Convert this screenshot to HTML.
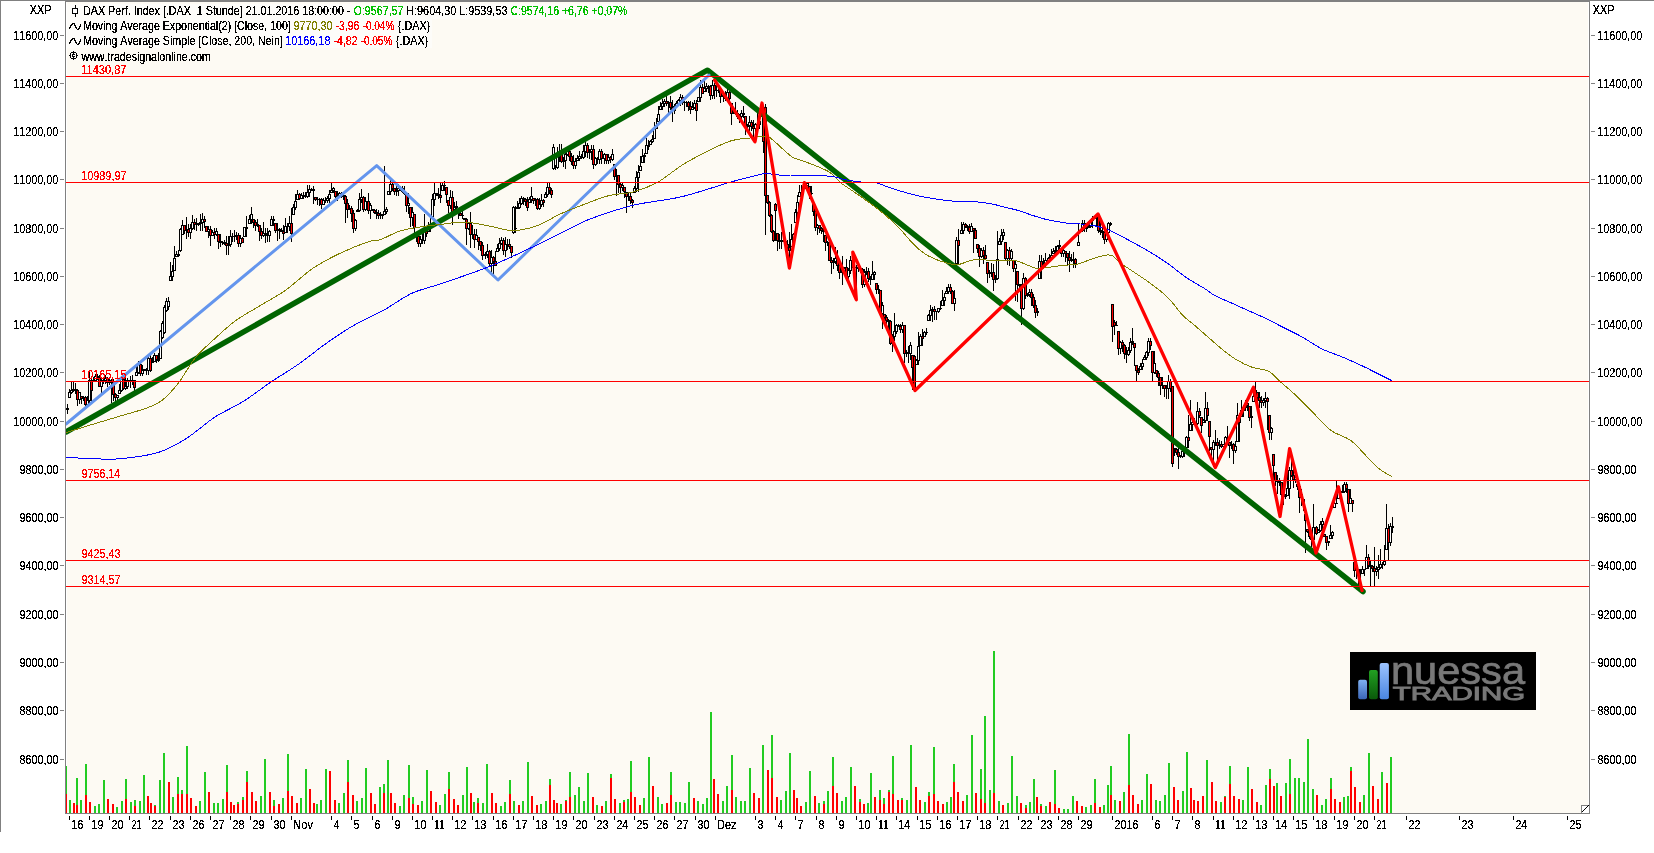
<!DOCTYPE html>
<html><head><meta charset="utf-8"><title>DAX chart</title>
<style>html,body{margin:0;padding:0;background:#fff;}body{width:1654px;height:853px;overflow:hidden;position:relative;font-family:"Liberation Sans", sans-serif;}</style>
</head><body>
<svg width="1654" height="853" viewBox="0 0 1654 853" style="position:absolute;left:0;top:0"><defs><filter id="crisp" color-interpolation-filters="sRGB"><feComponentTransfer><feFuncA type="discrete" tableValues="0 1 1"/></feComponentTransfer></filter></defs><rect x="0" y="0" width="1654" height="1" fill="#808080" shape-rendering="crispEdges"/><rect x="0" y="0" width="1" height="832" fill="#808080" shape-rendering="crispEdges"/><rect x="65" y="1" width="1525" height="813" fill="#808080" shape-rendering="crispEdges"/><rect x="66" y="2" width="1523" height="811" fill="#fdfaf3" shape-rendering="crispEdges"/><rect x="66" y="2" width="1" height="811" fill="#fff"/><rect x="1588" y="2" width="1" height="811" fill="#fff"/><rect x="67" y="4" width="563" height="15" fill="#fdfcf9" shape-rendering="crispEdges"/><rect x="67" y="19" width="365" height="29" fill="#fdfcf9" shape-rendering="crispEdges"/><defs><clipPath id="cp"><rect x="66" y="2" width="1523" height="811"/></clipPath></defs><g clip-path="url(#cp)"><g shape-rendering="crispEdges"><rect x="65" y="766" width="2" height="47" fill="#22cc22"/><rect x="65" y="794" width="2" height="19" fill="#ff0000"/><rect x="69" y="800" width="2" height="13" fill="#22cc22"/><rect x="73" y="803" width="2" height="10" fill="#ff0000"/><rect x="76" y="778" width="2" height="35" fill="#22cc22"/><rect x="76" y="805" width="2" height="8" fill="#ff0000"/><rect x="80" y="800" width="2" height="13" fill="#22cc22"/><rect x="85" y="764" width="2" height="49" fill="#22cc22"/><rect x="85" y="795" width="2" height="18" fill="#ff0000"/><rect x="89" y="802" width="2" height="11" fill="#ff0000"/><rect x="94" y="806" width="2" height="7" fill="#22cc22"/><rect x="98" y="804" width="2" height="9" fill="#22cc22"/><rect x="103" y="780" width="2" height="33" fill="#22cc22"/><rect x="107" y="799" width="2" height="14" fill="#ff0000"/><rect x="112" y="804" width="2" height="9" fill="#ff0000"/><rect x="116" y="807" width="2" height="6" fill="#22cc22"/><rect x="121" y="801" width="2" height="12" fill="#22cc22"/><rect x="125" y="779" width="2" height="34" fill="#22cc22"/><rect x="125" y="799" width="2" height="14" fill="#ff0000"/><rect x="130" y="802" width="2" height="11" fill="#22cc22"/><rect x="134" y="800" width="2" height="13" fill="#22cc22"/><rect x="134" y="806" width="2" height="7" fill="#ff0000"/><rect x="139" y="801" width="2" height="12" fill="#22cc22"/><rect x="143" y="775" width="2" height="38" fill="#22cc22"/><rect x="147" y="796" width="2" height="17" fill="#ff0000"/><rect x="150" y="803" width="2" height="10" fill="#ff0000"/><rect x="154" y="805" width="2" height="8" fill="#22cc22"/><rect x="154" y="806" width="2" height="7" fill="#ff0000"/><rect x="159" y="780" width="2" height="33" fill="#22cc22"/><rect x="163" y="753" width="2" height="60" fill="#22cc22"/><rect x="168" y="782" width="2" height="31" fill="#ff0000"/><rect x="172" y="797" width="2" height="16" fill="#22cc22"/><rect x="177" y="777" width="2" height="36" fill="#22cc22"/><rect x="177" y="794" width="2" height="19" fill="#ff0000"/><rect x="181" y="790" width="2" height="23" fill="#22cc22"/><rect x="181" y="794" width="2" height="19" fill="#ff0000"/><rect x="186" y="746" width="2" height="67" fill="#22cc22"/><rect x="186" y="794" width="2" height="19" fill="#ff0000"/><rect x="190" y="798" width="2" height="15" fill="#ff0000"/><rect x="195" y="806" width="2" height="7" fill="#ff0000"/><rect x="199" y="801" width="2" height="12" fill="#22cc22"/><rect x="204" y="772" width="2" height="41" fill="#22cc22"/><rect x="208" y="792" width="2" height="21" fill="#ff0000"/><rect x="213" y="803" width="2" height="10" fill="#22cc22"/><rect x="217" y="803" width="2" height="10" fill="#22cc22"/><rect x="222" y="799" width="2" height="14" fill="#22cc22"/><rect x="226" y="765" width="2" height="48" fill="#22cc22"/><rect x="226" y="792" width="2" height="21" fill="#ff0000"/><rect x="230" y="802" width="2" height="11" fill="#ff0000"/><rect x="233" y="805" width="2" height="8" fill="#ff0000"/><rect x="237" y="802" width="2" height="11" fill="#22cc22"/><rect x="237" y="804" width="2" height="9" fill="#ff0000"/><rect x="242" y="797" width="2" height="16" fill="#22cc22"/><rect x="242" y="800" width="2" height="13" fill="#ff0000"/><rect x="246" y="771" width="2" height="42" fill="#22cc22"/><rect x="246" y="782" width="2" height="31" fill="#ff0000"/><rect x="251" y="792" width="2" height="21" fill="#ff0000"/><rect x="255" y="801" width="2" height="12" fill="#ff0000"/><rect x="260" y="796" width="2" height="17" fill="#22cc22"/><rect x="264" y="759" width="2" height="54" fill="#22cc22"/><rect x="269" y="792" width="2" height="21" fill="#ff0000"/><rect x="273" y="800" width="2" height="13" fill="#22cc22"/><rect x="273" y="806" width="2" height="7" fill="#ff0000"/><rect x="278" y="804" width="2" height="9" fill="#ff0000"/><rect x="282" y="798" width="2" height="15" fill="#22cc22"/><rect x="287" y="754" width="2" height="59" fill="#22cc22"/><rect x="287" y="791" width="2" height="22" fill="#ff0000"/><rect x="291" y="796" width="2" height="17" fill="#ff0000"/><rect x="296" y="803" width="2" height="10" fill="#ff0000"/><rect x="300" y="798" width="2" height="15" fill="#22cc22"/><rect x="305" y="769" width="2" height="44" fill="#22cc22"/><rect x="309" y="789" width="2" height="24" fill="#ff0000"/><rect x="313" y="803" width="2" height="10" fill="#ff0000"/><rect x="316" y="804" width="2" height="9" fill="#22cc22"/><rect x="320" y="800" width="2" height="13" fill="#22cc22"/><rect x="325" y="769" width="2" height="44" fill="#22cc22"/><rect x="329" y="771" width="2" height="42" fill="#ff0000"/><rect x="334" y="800" width="2" height="13" fill="#ff0000"/><rect x="338" y="803" width="2" height="10" fill="#22cc22"/><rect x="343" y="793" width="2" height="20" fill="#22cc22"/><rect x="347" y="760" width="2" height="53" fill="#22cc22"/><rect x="347" y="782" width="2" height="31" fill="#ff0000"/><rect x="352" y="795" width="2" height="18" fill="#ff0000"/><rect x="356" y="801" width="2" height="12" fill="#22cc22"/><rect x="361" y="798" width="2" height="15" fill="#22cc22"/><rect x="365" y="768" width="2" height="45" fill="#22cc22"/><rect x="370" y="793" width="2" height="20" fill="#ff0000"/><rect x="374" y="804" width="2" height="9" fill="#ff0000"/><rect x="379" y="787" width="2" height="26" fill="#22cc22"/><rect x="383" y="784" width="2" height="29" fill="#22cc22"/><rect x="383" y="793" width="2" height="20" fill="#ff0000"/><rect x="387" y="760" width="2" height="53" fill="#22cc22"/><rect x="390" y="793" width="2" height="20" fill="#ff0000"/><rect x="394" y="803" width="2" height="10" fill="#ff0000"/><rect x="399" y="806" width="2" height="7" fill="#22cc22"/><rect x="403" y="795" width="2" height="18" fill="#22cc22"/><rect x="408" y="765" width="2" height="48" fill="#22cc22"/><rect x="408" y="798" width="2" height="15" fill="#ff0000"/><rect x="412" y="797" width="2" height="16" fill="#22cc22"/><rect x="412" y="804" width="2" height="9" fill="#ff0000"/><rect x="417" y="805" width="2" height="8" fill="#ff0000"/><rect x="421" y="801" width="2" height="12" fill="#22cc22"/><rect x="426" y="770" width="2" height="43" fill="#22cc22"/><rect x="430" y="791" width="2" height="22" fill="#ff0000"/><rect x="435" y="802" width="2" height="11" fill="#ff0000"/><rect x="439" y="805" width="2" height="8" fill="#22cc22"/><rect x="444" y="794" width="2" height="19" fill="#22cc22"/><rect x="448" y="772" width="2" height="41" fill="#22cc22"/><rect x="448" y="789" width="2" height="24" fill="#ff0000"/><rect x="453" y="799" width="2" height="14" fill="#ff0000"/><rect x="457" y="805" width="2" height="8" fill="#ff0000"/><rect x="462" y="795" width="2" height="18" fill="#22cc22"/><rect x="466" y="767" width="2" height="46" fill="#22cc22"/><rect x="470" y="793" width="2" height="20" fill="#ff0000"/><rect x="473" y="802" width="2" height="11" fill="#22cc22"/><rect x="477" y="798" width="2" height="15" fill="#22cc22"/><rect x="477" y="803" width="2" height="10" fill="#ff0000"/><rect x="482" y="803" width="2" height="10" fill="#22cc22"/><rect x="486" y="764" width="2" height="49" fill="#22cc22"/><rect x="491" y="793" width="2" height="20" fill="#ff0000"/><rect x="495" y="803" width="2" height="10" fill="#ff0000"/><rect x="500" y="806" width="2" height="7" fill="#22cc22"/><rect x="504" y="802" width="2" height="11" fill="#22cc22"/><rect x="509" y="780" width="2" height="33" fill="#22cc22"/><rect x="509" y="794" width="2" height="19" fill="#ff0000"/><rect x="513" y="801" width="2" height="12" fill="#22cc22"/><rect x="518" y="805" width="2" height="8" fill="#ff0000"/><rect x="522" y="801" width="2" height="12" fill="#22cc22"/><rect x="527" y="762" width="2" height="51" fill="#22cc22"/><rect x="531" y="796" width="2" height="17" fill="#ff0000"/><rect x="536" y="805" width="2" height="8" fill="#ff0000"/><rect x="540" y="804" width="2" height="9" fill="#22cc22"/><rect x="545" y="801" width="2" height="12" fill="#22cc22"/><rect x="549" y="779" width="2" height="34" fill="#22cc22"/><rect x="549" y="785" width="2" height="28" fill="#ff0000"/><rect x="553" y="800" width="2" height="13" fill="#ff0000"/><rect x="556" y="803" width="2" height="10" fill="#ff0000"/><rect x="560" y="804" width="2" height="9" fill="#22cc22"/><rect x="565" y="800" width="2" height="13" fill="#22cc22"/><rect x="565" y="801" width="2" height="12" fill="#ff0000"/><rect x="569" y="772" width="2" height="41" fill="#22cc22"/><rect x="569" y="797" width="2" height="16" fill="#ff0000"/><rect x="574" y="795" width="2" height="18" fill="#22cc22"/><rect x="578" y="787" width="2" height="26" fill="#22cc22"/><rect x="583" y="801" width="2" height="12" fill="#22cc22"/><rect x="587" y="773" width="2" height="40" fill="#22cc22"/><rect x="592" y="797" width="2" height="16" fill="#ff0000"/><rect x="596" y="805" width="2" height="8" fill="#22cc22"/><rect x="601" y="806" width="2" height="7" fill="#ff0000"/><rect x="605" y="801" width="2" height="12" fill="#22cc22"/><rect x="610" y="774" width="2" height="39" fill="#22cc22"/><rect x="610" y="778" width="2" height="35" fill="#ff0000"/><rect x="614" y="799" width="2" height="14" fill="#ff0000"/><rect x="619" y="803" width="2" height="10" fill="#22cc22"/><rect x="623" y="800" width="2" height="13" fill="#22cc22"/><rect x="623" y="802" width="2" height="11" fill="#ff0000"/><rect x="627" y="799" width="2" height="14" fill="#22cc22"/><rect x="630" y="761" width="2" height="52" fill="#22cc22"/><rect x="630" y="792" width="2" height="21" fill="#ff0000"/><rect x="634" y="797" width="2" height="16" fill="#ff0000"/><rect x="639" y="805" width="2" height="8" fill="#ff0000"/><rect x="643" y="798" width="2" height="15" fill="#22cc22"/><rect x="648" y="757" width="2" height="56" fill="#22cc22"/><rect x="652" y="786" width="2" height="27" fill="#ff0000"/><rect x="657" y="797" width="2" height="16" fill="#22cc22"/><rect x="661" y="804" width="2" height="9" fill="#22cc22"/><rect x="666" y="803" width="2" height="10" fill="#ff0000"/><rect x="670" y="772" width="2" height="41" fill="#22cc22"/><rect x="670" y="795" width="2" height="18" fill="#ff0000"/><rect x="675" y="802" width="2" height="11" fill="#22cc22"/><rect x="679" y="802" width="2" height="11" fill="#22cc22"/><rect x="684" y="803" width="2" height="10" fill="#22cc22"/><rect x="688" y="782" width="2" height="31" fill="#22cc22"/><rect x="693" y="798" width="2" height="15" fill="#ff0000"/><rect x="697" y="801" width="2" height="12" fill="#22cc22"/><rect x="702" y="804" width="2" height="9" fill="#22cc22"/><rect x="706" y="798" width="2" height="15" fill="#22cc22"/><rect x="710" y="712" width="2" height="101" fill="#22cc22"/><rect x="713" y="779" width="2" height="34" fill="#ff0000"/><rect x="717" y="794" width="2" height="19" fill="#ff0000"/><rect x="722" y="801" width="2" height="12" fill="#22cc22"/><rect x="726" y="786" width="2" height="27" fill="#22cc22"/><rect x="731" y="755" width="2" height="58" fill="#22cc22"/><rect x="731" y="790" width="2" height="23" fill="#ff0000"/><rect x="735" y="797" width="2" height="16" fill="#22cc22"/><rect x="740" y="801" width="2" height="12" fill="#22cc22"/><rect x="744" y="801" width="2" height="12" fill="#22cc22"/><rect x="749" y="768" width="2" height="45" fill="#22cc22"/><rect x="753" y="793" width="2" height="20" fill="#ff0000"/><rect x="758" y="798" width="2" height="15" fill="#ff0000"/><rect x="762" y="745" width="2" height="68" fill="#22cc22"/><rect x="767" y="770" width="2" height="43" fill="#ff0000"/><rect x="771" y="735" width="2" height="78" fill="#22cc22"/><rect x="771" y="778" width="2" height="35" fill="#ff0000"/><rect x="776" y="797" width="2" height="16" fill="#ff0000"/><rect x="780" y="800" width="2" height="13" fill="#22cc22"/><rect x="785" y="791" width="2" height="22" fill="#22cc22"/><rect x="789" y="753" width="2" height="60" fill="#22cc22"/><rect x="793" y="790" width="2" height="23" fill="#ff0000"/><rect x="796" y="798" width="2" height="15" fill="#ff0000"/><rect x="800" y="806" width="2" height="7" fill="#ff0000"/><rect x="805" y="802" width="2" height="11" fill="#22cc22"/><rect x="809" y="771" width="2" height="42" fill="#22cc22"/><rect x="814" y="796" width="2" height="17" fill="#ff0000"/><rect x="818" y="803" width="2" height="10" fill="#22cc22"/><rect x="823" y="801" width="2" height="12" fill="#22cc22"/><rect x="823" y="804" width="2" height="9" fill="#ff0000"/><rect x="827" y="791" width="2" height="22" fill="#22cc22"/><rect x="832" y="757" width="2" height="56" fill="#22cc22"/><rect x="832" y="786" width="2" height="27" fill="#ff0000"/><rect x="836" y="793" width="2" height="20" fill="#ff0000"/><rect x="841" y="801" width="2" height="12" fill="#22cc22"/><rect x="845" y="797" width="2" height="16" fill="#22cc22"/><rect x="850" y="767" width="2" height="46" fill="#22cc22"/><rect x="854" y="786" width="2" height="27" fill="#ff0000"/><rect x="859" y="799" width="2" height="14" fill="#22cc22"/><rect x="859" y="802" width="2" height="11" fill="#ff0000"/><rect x="863" y="804" width="2" height="9" fill="#ff0000"/><rect x="867" y="803" width="2" height="10" fill="#22cc22"/><rect x="870" y="773" width="2" height="40" fill="#22cc22"/><rect x="874" y="797" width="2" height="16" fill="#ff0000"/><rect x="879" y="790" width="2" height="23" fill="#22cc22"/><rect x="879" y="800" width="2" height="13" fill="#ff0000"/><rect x="883" y="798" width="2" height="15" fill="#22cc22"/><rect x="883" y="804" width="2" height="9" fill="#ff0000"/><rect x="888" y="790" width="2" height="23" fill="#22cc22"/><rect x="888" y="792" width="2" height="21" fill="#ff0000"/><rect x="892" y="756" width="2" height="57" fill="#22cc22"/><rect x="892" y="794" width="2" height="19" fill="#ff0000"/><rect x="897" y="800" width="2" height="13" fill="#ff0000"/><rect x="901" y="798" width="2" height="15" fill="#22cc22"/><rect x="901" y="800" width="2" height="13" fill="#ff0000"/><rect x="906" y="800" width="2" height="13" fill="#22cc22"/><rect x="910" y="745" width="2" height="68" fill="#22cc22"/><rect x="915" y="787" width="2" height="26" fill="#ff0000"/><rect x="919" y="800" width="2" height="13" fill="#ff0000"/><rect x="924" y="802" width="2" height="11" fill="#22cc22"/><rect x="928" y="792" width="2" height="21" fill="#22cc22"/><rect x="928" y="796" width="2" height="17" fill="#ff0000"/><rect x="933" y="747" width="2" height="66" fill="#22cc22"/><rect x="933" y="794" width="2" height="19" fill="#ff0000"/><rect x="937" y="801" width="2" height="12" fill="#ff0000"/><rect x="942" y="804" width="2" height="9" fill="#ff0000"/><rect x="946" y="802" width="2" height="11" fill="#22cc22"/><rect x="950" y="797" width="2" height="16" fill="#22cc22"/><rect x="953" y="764" width="2" height="49" fill="#22cc22"/><rect x="953" y="782" width="2" height="31" fill="#ff0000"/><rect x="957" y="792" width="2" height="21" fill="#ff0000"/><rect x="962" y="801" width="2" height="12" fill="#ff0000"/><rect x="966" y="795" width="2" height="18" fill="#22cc22"/><rect x="971" y="735" width="2" height="78" fill="#22cc22"/><rect x="975" y="793" width="2" height="20" fill="#ff0000"/><rect x="980" y="769" width="2" height="44" fill="#22cc22"/><rect x="980" y="799" width="2" height="14" fill="#ff0000"/><rect x="984" y="716" width="2" height="97" fill="#22cc22"/><rect x="984" y="803" width="2" height="10" fill="#ff0000"/><rect x="989" y="790" width="2" height="23" fill="#22cc22"/><rect x="993" y="651" width="2" height="162" fill="#22cc22"/><rect x="993" y="793" width="2" height="20" fill="#ff0000"/><rect x="998" y="801" width="2" height="12" fill="#22cc22"/><rect x="1002" y="805" width="2" height="8" fill="#ff0000"/><rect x="1007" y="803" width="2" height="10" fill="#22cc22"/><rect x="1011" y="756" width="2" height="57" fill="#22cc22"/><rect x="1016" y="796" width="2" height="17" fill="#22cc22"/><rect x="1020" y="803" width="2" height="10" fill="#ff0000"/><rect x="1025" y="805" width="2" height="8" fill="#22cc22"/><rect x="1025" y="808" width="2" height="5" fill="#ff0000"/><rect x="1029" y="802" width="2" height="11" fill="#22cc22"/><rect x="1033" y="779" width="2" height="34" fill="#22cc22"/><rect x="1036" y="797" width="2" height="16" fill="#ff0000"/><rect x="1040" y="804" width="2" height="9" fill="#22cc22"/><rect x="1040" y="806" width="2" height="7" fill="#ff0000"/><rect x="1045" y="806" width="2" height="7" fill="#22cc22"/><rect x="1049" y="802" width="2" height="11" fill="#ff0000"/><rect x="1054" y="770" width="2" height="43" fill="#22cc22"/><rect x="1054" y="804" width="2" height="9" fill="#ff0000"/><rect x="1058" y="808" width="2" height="5" fill="#ff0000"/><rect x="1063" y="809" width="2" height="4" fill="#22cc22"/><rect x="1067" y="809" width="2" height="4" fill="#22cc22"/><rect x="1072" y="796" width="2" height="17" fill="#22cc22"/><rect x="1076" y="801" width="2" height="12" fill="#ff0000"/><rect x="1081" y="806" width="2" height="7" fill="#ff0000"/><rect x="1085" y="807" width="2" height="6" fill="#22cc22"/><rect x="1090" y="805" width="2" height="8" fill="#22cc22"/><rect x="1094" y="779" width="2" height="34" fill="#22cc22"/><rect x="1094" y="803" width="2" height="10" fill="#ff0000"/><rect x="1099" y="807" width="2" height="6" fill="#ff0000"/><rect x="1103" y="805" width="2" height="8" fill="#22cc22"/><rect x="1107" y="785" width="2" height="28" fill="#22cc22"/><rect x="1110" y="766" width="2" height="47" fill="#22cc22"/><rect x="1110" y="795" width="2" height="18" fill="#ff0000"/><rect x="1114" y="800" width="2" height="13" fill="#22cc22"/><rect x="1119" y="801" width="2" height="12" fill="#ff0000"/><rect x="1123" y="792" width="2" height="21" fill="#22cc22"/><rect x="1128" y="734" width="2" height="79" fill="#22cc22"/><rect x="1128" y="785" width="2" height="28" fill="#ff0000"/><rect x="1132" y="795" width="2" height="18" fill="#ff0000"/><rect x="1137" y="804" width="2" height="9" fill="#ff0000"/><rect x="1141" y="800" width="2" height="13" fill="#22cc22"/><rect x="1146" y="774" width="2" height="39" fill="#22cc22"/><rect x="1150" y="784" width="2" height="29" fill="#ff0000"/><rect x="1155" y="800" width="2" height="13" fill="#22cc22"/><rect x="1159" y="801" width="2" height="12" fill="#22cc22"/><rect x="1164" y="795" width="2" height="18" fill="#22cc22"/><rect x="1168" y="763" width="2" height="50" fill="#22cc22"/><rect x="1173" y="787" width="2" height="26" fill="#ff0000"/><rect x="1177" y="800" width="2" height="13" fill="#ff0000"/><rect x="1182" y="791" width="2" height="22" fill="#22cc22"/><rect x="1186" y="752" width="2" height="61" fill="#22cc22"/><rect x="1190" y="788" width="2" height="25" fill="#ff0000"/><rect x="1193" y="800" width="2" height="13" fill="#ff0000"/><rect x="1197" y="801" width="2" height="12" fill="#ff0000"/><rect x="1202" y="796" width="2" height="17" fill="#ff0000"/><rect x="1206" y="760" width="2" height="53" fill="#22cc22"/><rect x="1211" y="782" width="2" height="31" fill="#ff0000"/><rect x="1215" y="801" width="2" height="12" fill="#ff0000"/><rect x="1220" y="802" width="2" height="11" fill="#22cc22"/><rect x="1224" y="796" width="2" height="17" fill="#22cc22"/><rect x="1224" y="797" width="2" height="16" fill="#ff0000"/><rect x="1229" y="766" width="2" height="47" fill="#22cc22"/><rect x="1229" y="784" width="2" height="29" fill="#ff0000"/><rect x="1233" y="796" width="2" height="17" fill="#ff0000"/><rect x="1238" y="799" width="2" height="14" fill="#ff0000"/><rect x="1242" y="800" width="2" height="13" fill="#22cc22"/><rect x="1247" y="767" width="2" height="46" fill="#22cc22"/><rect x="1251" y="789" width="2" height="24" fill="#ff0000"/><rect x="1256" y="802" width="2" height="11" fill="#ff0000"/><rect x="1260" y="805" width="2" height="8" fill="#22cc22"/><rect x="1265" y="785" width="2" height="28" fill="#22cc22"/><rect x="1269" y="769" width="2" height="44" fill="#22cc22"/><rect x="1269" y="779" width="2" height="34" fill="#ff0000"/><rect x="1273" y="786" width="2" height="27" fill="#ff0000"/><rect x="1276" y="783" width="2" height="30" fill="#22cc22"/><rect x="1280" y="796" width="2" height="17" fill="#ff0000"/><rect x="1285" y="783" width="2" height="30" fill="#22cc22"/><rect x="1289" y="759" width="2" height="54" fill="#22cc22"/><rect x="1289" y="794" width="2" height="19" fill="#ff0000"/><rect x="1294" y="778" width="2" height="35" fill="#22cc22"/><rect x="1298" y="778" width="2" height="35" fill="#22cc22"/><rect x="1303" y="782" width="2" height="31" fill="#22cc22"/><rect x="1307" y="739" width="2" height="74" fill="#22cc22"/><rect x="1312" y="789" width="2" height="24" fill="#22cc22"/><rect x="1316" y="795" width="2" height="18" fill="#ff0000"/><rect x="1321" y="805" width="2" height="8" fill="#22cc22"/><rect x="1325" y="799" width="2" height="14" fill="#22cc22"/><rect x="1330" y="778" width="2" height="35" fill="#22cc22"/><rect x="1330" y="789" width="2" height="24" fill="#ff0000"/><rect x="1334" y="799" width="2" height="14" fill="#ff0000"/><rect x="1339" y="802" width="2" height="11" fill="#ff0000"/><rect x="1343" y="797" width="2" height="16" fill="#22cc22"/><rect x="1347" y="796" width="2" height="17" fill="#22cc22"/><rect x="1350" y="767" width="2" height="46" fill="#22cc22"/><rect x="1350" y="771" width="2" height="42" fill="#ff0000"/><rect x="1354" y="787" width="2" height="26" fill="#ff0000"/><rect x="1359" y="802" width="2" height="11" fill="#ff0000"/><rect x="1363" y="795" width="2" height="18" fill="#22cc22"/><rect x="1368" y="753" width="2" height="60" fill="#22cc22"/><rect x="1372" y="786" width="2" height="27" fill="#ff0000"/><rect x="1377" y="799" width="2" height="14" fill="#ff0000"/><rect x="1381" y="772" width="2" height="41" fill="#22cc22"/><rect x="1386" y="783" width="2" height="30" fill="#ff0000"/><rect x="1390" y="757" width="2" height="56" fill="#22cc22"/></g><g shape-rendering="crispEdges"><rect x="67" y="404" width="1" height="10" fill="#000"/><rect x="66" y="408" width="3" height="2" fill="#000"/><rect x="69" y="389" width="1" height="9" fill="#000"/><rect x="68" y="392" width="3" height="6" fill="#000"/><rect x="69" y="393" width="1" height="4" fill="#ffffff"/><rect x="71" y="382" width="1" height="12" fill="#000"/><rect x="70" y="390" width="3" height="3" fill="#000"/><rect x="71" y="391" width="1" height="1" fill="#ffffff"/><rect x="73" y="382" width="1" height="10" fill="#000"/><rect x="72" y="389" width="3" height="2" fill="#000"/><rect x="75" y="383" width="1" height="11" fill="#000"/><rect x="74" y="389" width="3" height="2" fill="#000"/><rect x="77" y="389" width="1" height="17" fill="#000"/><rect x="76" y="390" width="3" height="10" fill="#000"/><rect x="77" y="391" width="1" height="8" fill="#ff0000"/><rect x="79" y="392" width="1" height="12" fill="#000"/><rect x="78" y="392" width="3" height="8" fill="#000"/><rect x="79" y="393" width="1" height="6" fill="#ffffff"/><rect x="81" y="396" width="1" height="8" fill="#000"/><rect x="80" y="396" width="3" height="3" fill="#000"/><rect x="81" y="397" width="1" height="1" fill="#ff0000"/><rect x="83" y="396" width="1" height="5" fill="#000"/><rect x="82" y="397" width="3" height="2" fill="#000"/><rect x="85" y="396" width="1" height="12" fill="#000"/><rect x="84" y="397" width="3" height="8" fill="#000"/><rect x="85" y="398" width="1" height="6" fill="#ff0000"/><rect x="87" y="396" width="1" height="11" fill="#000"/><rect x="86" y="400" width="3" height="5" fill="#000"/><rect x="87" y="401" width="1" height="3" fill="#ffffff"/><rect x="89" y="372" width="1" height="31" fill="#000"/><rect x="88" y="380" width="3" height="21" fill="#000"/><rect x="89" y="381" width="1" height="19" fill="#ffffff"/><rect x="91" y="377" width="1" height="26" fill="#000"/><rect x="90" y="380" width="3" height="11" fill="#000"/><rect x="91" y="381" width="1" height="9" fill="#ff0000"/><rect x="93" y="377" width="1" height="4" fill="#000"/><rect x="92" y="380" width="3" height="1" fill="#000"/><rect x="95" y="374" width="1" height="7" fill="#000"/><rect x="94" y="376" width="3" height="5" fill="#000"/><rect x="95" y="377" width="1" height="3" fill="#ffffff"/><rect x="97" y="374" width="1" height="6" fill="#000"/><rect x="96" y="376" width="3" height="2" fill="#000"/><rect x="99" y="375" width="1" height="12" fill="#000"/><rect x="98" y="377" width="3" height="10" fill="#000"/><rect x="99" y="378" width="1" height="8" fill="#ff0000"/><rect x="101" y="377" width="1" height="17" fill="#000"/><rect x="100" y="380" width="3" height="7" fill="#000"/><rect x="101" y="381" width="1" height="5" fill="#ffffff"/><rect x="103" y="379" width="1" height="5" fill="#000"/><rect x="102" y="380" width="3" height="1" fill="#000"/><rect x="105" y="375" width="1" height="9" fill="#000"/><rect x="104" y="378" width="3" height="3" fill="#000"/><rect x="105" y="379" width="1" height="1" fill="#ffffff"/><rect x="107" y="377" width="1" height="10" fill="#000"/><rect x="106" y="378" width="3" height="5" fill="#000"/><rect x="107" y="379" width="1" height="3" fill="#ff0000"/><rect x="109" y="377" width="1" height="8" fill="#000"/><rect x="108" y="380" width="3" height="3" fill="#000"/><rect x="109" y="381" width="1" height="1" fill="#ffffff"/><rect x="111" y="379" width="1" height="24" fill="#000"/><rect x="110" y="380" width="3" height="2" fill="#000"/><rect x="113" y="379" width="1" height="22" fill="#000"/><rect x="112" y="381" width="3" height="14" fill="#000"/><rect x="113" y="382" width="1" height="12" fill="#ff0000"/><rect x="115" y="393" width="1" height="9" fill="#000"/><rect x="114" y="394" width="3" height="4" fill="#000"/><rect x="115" y="395" width="1" height="2" fill="#ff0000"/><rect x="117" y="395" width="1" height="7" fill="#000"/><rect x="116" y="395" width="3" height="3" fill="#000"/><rect x="117" y="396" width="1" height="1" fill="#ffffff"/><rect x="119" y="384" width="1" height="10" fill="#000"/><rect x="118" y="390" width="3" height="4" fill="#000"/><rect x="119" y="391" width="1" height="2" fill="#ffffff"/><rect x="121" y="376" width="1" height="16" fill="#000"/><rect x="120" y="379" width="3" height="12" fill="#000"/><rect x="121" y="380" width="1" height="10" fill="#ffffff"/><rect x="123" y="376" width="1" height="14" fill="#000"/><rect x="122" y="379" width="3" height="10" fill="#000"/><rect x="123" y="380" width="1" height="8" fill="#ff0000"/><rect x="125" y="378" width="1" height="12" fill="#000"/><rect x="124" y="386" width="3" height="3" fill="#000"/><rect x="125" y="387" width="1" height="1" fill="#ffffff"/><rect x="127" y="378" width="1" height="11" fill="#000"/><rect x="126" y="380" width="3" height="7" fill="#000"/><rect x="127" y="381" width="1" height="5" fill="#ffffff"/><rect x="130" y="376" width="1" height="12" fill="#000"/><rect x="129" y="380" width="3" height="2" fill="#000"/><rect x="132" y="375" width="1" height="10" fill="#000"/><rect x="131" y="380" width="3" height="2" fill="#000"/><rect x="134" y="380" width="1" height="13" fill="#000"/><rect x="133" y="380" width="3" height="8" fill="#000"/><rect x="134" y="381" width="1" height="6" fill="#ff0000"/><rect x="136" y="367" width="1" height="9" fill="#000"/><rect x="135" y="372" width="3" height="4" fill="#000"/><rect x="136" y="373" width="1" height="2" fill="#ffffff"/><rect x="138" y="361" width="1" height="13" fill="#000"/><rect x="137" y="364" width="3" height="9" fill="#000"/><rect x="138" y="365" width="1" height="7" fill="#ffffff"/><rect x="140" y="362" width="1" height="14" fill="#000"/><rect x="139" y="364" width="3" height="10" fill="#000"/><rect x="140" y="365" width="1" height="8" fill="#ff0000"/><rect x="142" y="365" width="1" height="11" fill="#000"/><rect x="141" y="370" width="3" height="4" fill="#000"/><rect x="142" y="371" width="1" height="2" fill="#ffffff"/><rect x="144" y="369" width="1" height="2" fill="#000"/><rect x="143" y="369" width="3" height="2" fill="#000"/><rect x="146" y="368" width="1" height="7" fill="#000"/><rect x="145" y="369" width="3" height="2" fill="#000"/><rect x="148" y="355" width="1" height="20" fill="#000"/><rect x="147" y="358" width="3" height="13" fill="#000"/><rect x="148" y="359" width="1" height="11" fill="#ffffff"/><rect x="150" y="355" width="1" height="17" fill="#000"/><rect x="149" y="358" width="3" height="13" fill="#000"/><rect x="150" y="359" width="1" height="11" fill="#ff0000"/><rect x="152" y="357" width="1" height="6" fill="#000"/><rect x="151" y="361" width="3" height="2" fill="#000"/><rect x="154" y="353" width="1" height="9" fill="#000"/><rect x="153" y="355" width="3" height="7" fill="#000"/><rect x="154" y="356" width="1" height="5" fill="#ffffff"/><rect x="156" y="355" width="1" height="8" fill="#000"/><rect x="155" y="355" width="3" height="5" fill="#000"/><rect x="156" y="356" width="1" height="3" fill="#ff0000"/><rect x="158" y="353" width="1" height="9" fill="#000"/><rect x="157" y="359" width="3" height="2" fill="#000"/><rect x="160" y="330" width="1" height="29" fill="#000"/><rect x="159" y="331" width="3" height="28" fill="#000"/><rect x="160" y="332" width="1" height="26" fill="#ffffff"/><rect x="162" y="321" width="1" height="18" fill="#000"/><rect x="161" y="323" width="3" height="15" fill="#000"/><rect x="162" y="324" width="1" height="13" fill="#ffffff"/><rect x="164" y="305" width="1" height="29" fill="#000"/><rect x="163" y="307" width="3" height="26" fill="#000"/><rect x="164" y="308" width="1" height="24" fill="#ffffff"/><rect x="166" y="298" width="1" height="14" fill="#000"/><rect x="165" y="301" width="3" height="10" fill="#000"/><rect x="166" y="302" width="1" height="8" fill="#ffffff"/><rect x="168" y="297" width="1" height="13" fill="#000"/><rect x="167" y="301" width="3" height="6" fill="#000"/><rect x="168" y="302" width="1" height="4" fill="#ffffff"/><rect x="170" y="262" width="1" height="19" fill="#000"/><rect x="169" y="276" width="3" height="5" fill="#000"/><rect x="170" y="277" width="1" height="3" fill="#ffffff"/><rect x="172" y="265" width="1" height="16" fill="#000"/><rect x="171" y="271" width="3" height="6" fill="#000"/><rect x="172" y="272" width="1" height="4" fill="#ffffff"/><rect x="174" y="246" width="1" height="25" fill="#000"/><rect x="173" y="258" width="3" height="13" fill="#000"/><rect x="174" y="259" width="1" height="11" fill="#ffffff"/><rect x="176" y="251" width="1" height="6" fill="#000"/><rect x="175" y="254" width="3" height="3" fill="#000"/><rect x="176" y="255" width="1" height="1" fill="#ffffff"/><rect x="178" y="250" width="1" height="7" fill="#000"/><rect x="177" y="254" width="3" height="2" fill="#000"/><rect x="180" y="228" width="1" height="24" fill="#000"/><rect x="179" y="229" width="3" height="22" fill="#000"/><rect x="180" y="230" width="1" height="20" fill="#ffffff"/><rect x="182" y="220" width="1" height="15" fill="#000"/><rect x="181" y="225" width="3" height="10" fill="#000"/><rect x="182" y="226" width="1" height="8" fill="#ffffff"/><rect x="184" y="225" width="1" height="9" fill="#000"/><rect x="183" y="225" width="3" height="6" fill="#000"/><rect x="184" y="226" width="1" height="4" fill="#ff0000"/><rect x="186" y="217" width="1" height="22" fill="#000"/><rect x="185" y="229" width="3" height="2" fill="#000"/><rect x="188" y="224" width="1" height="13" fill="#000"/><rect x="187" y="229" width="3" height="4" fill="#000"/><rect x="188" y="230" width="1" height="2" fill="#ff0000"/><rect x="190" y="224" width="1" height="15" fill="#000"/><rect x="189" y="228" width="3" height="5" fill="#000"/><rect x="190" y="229" width="1" height="3" fill="#ffffff"/><rect x="192" y="215" width="1" height="15" fill="#000"/><rect x="191" y="222" width="3" height="7" fill="#000"/><rect x="192" y="223" width="1" height="5" fill="#ffffff"/><rect x="194" y="219" width="1" height="11" fill="#000"/><rect x="193" y="222" width="3" height="3" fill="#000"/><rect x="194" y="223" width="1" height="1" fill="#ff0000"/><rect x="196" y="218" width="1" height="13" fill="#000"/><rect x="195" y="224" width="3" height="1" fill="#000"/><rect x="198" y="223" width="1" height="3" fill="#000"/><rect x="197" y="223" width="3" height="2" fill="#000"/><rect x="200" y="214" width="1" height="17" fill="#000"/><rect x="199" y="222" width="3" height="2" fill="#000"/><rect x="202" y="213" width="1" height="18" fill="#000"/><rect x="201" y="219" width="3" height="4" fill="#000"/><rect x="202" y="220" width="1" height="2" fill="#ffffff"/><rect x="204" y="216" width="1" height="12" fill="#000"/><rect x="203" y="219" width="3" height="3" fill="#000"/><rect x="204" y="220" width="1" height="1" fill="#ff0000"/><rect x="206" y="226" width="1" height="6" fill="#000"/><rect x="205" y="226" width="3" height="6" fill="#000"/><rect x="206" y="227" width="1" height="4" fill="#ff0000"/><rect x="208" y="226" width="1" height="12" fill="#000"/><rect x="207" y="229" width="3" height="3" fill="#000"/><rect x="208" y="230" width="1" height="1" fill="#ffffff"/><rect x="210" y="226" width="1" height="20" fill="#000"/><rect x="209" y="229" width="3" height="7" fill="#000"/><rect x="210" y="230" width="1" height="5" fill="#ff0000"/><rect x="212" y="230" width="1" height="6" fill="#000"/><rect x="211" y="232" width="3" height="4" fill="#000"/><rect x="212" y="233" width="1" height="2" fill="#ffffff"/><rect x="214" y="228" width="1" height="11" fill="#000"/><rect x="213" y="232" width="3" height="3" fill="#000"/><rect x="214" y="233" width="1" height="1" fill="#ff0000"/><rect x="216" y="228" width="1" height="8" fill="#000"/><rect x="215" y="231" width="3" height="4" fill="#000"/><rect x="216" y="232" width="1" height="2" fill="#ffffff"/><rect x="218" y="234" width="1" height="15" fill="#000"/><rect x="217" y="234" width="3" height="8" fill="#000"/><rect x="218" y="235" width="1" height="6" fill="#ff0000"/><rect x="220" y="234" width="1" height="13" fill="#000"/><rect x="219" y="241" width="3" height="2" fill="#000"/><rect x="222" y="241" width="1" height="4" fill="#000"/><rect x="221" y="242" width="3" height="1" fill="#000"/><rect x="224" y="240" width="1" height="5" fill="#000"/><rect x="223" y="242" width="3" height="2" fill="#000"/><rect x="226" y="236" width="1" height="19" fill="#000"/><rect x="225" y="243" width="3" height="3" fill="#000"/><rect x="226" y="244" width="1" height="1" fill="#ff0000"/><rect x="228" y="236" width="1" height="19" fill="#000"/><rect x="227" y="244" width="3" height="2" fill="#000"/><rect x="230" y="230" width="1" height="17" fill="#000"/><rect x="229" y="236" width="3" height="9" fill="#000"/><rect x="230" y="237" width="1" height="7" fill="#ffffff"/><rect x="232" y="233" width="1" height="9" fill="#000"/><rect x="231" y="236" width="3" height="1" fill="#000"/><rect x="234" y="230" width="1" height="12" fill="#000"/><rect x="233" y="236" width="3" height="1" fill="#000"/><rect x="236" y="232" width="1" height="8" fill="#000"/><rect x="235" y="235" width="3" height="2" fill="#000"/><rect x="238" y="233" width="1" height="14" fill="#000"/><rect x="237" y="235" width="3" height="9" fill="#000"/><rect x="238" y="236" width="1" height="7" fill="#ff0000"/><rect x="240" y="235" width="1" height="12" fill="#000"/><rect x="239" y="238" width="3" height="6" fill="#000"/><rect x="240" y="239" width="1" height="4" fill="#ffffff"/><rect x="242" y="237" width="1" height="6" fill="#000"/><rect x="241" y="238" width="3" height="5" fill="#000"/><rect x="242" y="239" width="1" height="3" fill="#ff0000"/><rect x="244" y="227" width="1" height="10" fill="#000"/><rect x="243" y="227" width="3" height="10" fill="#000"/><rect x="244" y="228" width="1" height="8" fill="#ffffff"/><rect x="246" y="216" width="1" height="21" fill="#000"/><rect x="245" y="227" width="3" height="2" fill="#000"/><rect x="249" y="215" width="1" height="9" fill="#000"/><rect x="248" y="219" width="3" height="5" fill="#000"/><rect x="249" y="220" width="1" height="3" fill="#ffffff"/><rect x="251" y="207" width="1" height="17" fill="#000"/><rect x="250" y="214" width="3" height="6" fill="#000"/><rect x="251" y="215" width="1" height="4" fill="#ffffff"/><rect x="253" y="219" width="1" height="9" fill="#000"/><rect x="252" y="219" width="3" height="4" fill="#000"/><rect x="253" y="220" width="1" height="2" fill="#ff0000"/><rect x="255" y="220" width="1" height="11" fill="#000"/><rect x="254" y="222" width="3" height="4" fill="#000"/><rect x="255" y="223" width="1" height="2" fill="#ff0000"/><rect x="257" y="219" width="1" height="8" fill="#000"/><rect x="256" y="224" width="3" height="2" fill="#000"/><rect x="259" y="225" width="1" height="16" fill="#000"/><rect x="258" y="225" width="3" height="7" fill="#000"/><rect x="259" y="226" width="1" height="5" fill="#ff0000"/><rect x="261" y="228" width="1" height="11" fill="#000"/><rect x="260" y="231" width="3" height="5" fill="#000"/><rect x="261" y="232" width="1" height="3" fill="#ff0000"/><rect x="263" y="222" width="1" height="15" fill="#000"/><rect x="262" y="233" width="3" height="3" fill="#000"/><rect x="263" y="234" width="1" height="1" fill="#ffffff"/><rect x="265" y="228" width="1" height="15" fill="#000"/><rect x="264" y="233" width="3" height="2" fill="#000"/><rect x="267" y="228" width="1" height="14" fill="#000"/><rect x="266" y="234" width="3" height="2" fill="#000"/><rect x="269" y="230" width="1" height="12" fill="#000"/><rect x="268" y="231" width="3" height="5" fill="#000"/><rect x="269" y="232" width="1" height="3" fill="#ffffff"/><rect x="271" y="216" width="1" height="10" fill="#000"/><rect x="270" y="219" width="3" height="7" fill="#000"/><rect x="271" y="220" width="1" height="5" fill="#ffffff"/><rect x="273" y="216" width="1" height="10" fill="#000"/><rect x="272" y="219" width="3" height="2" fill="#000"/><rect x="275" y="223" width="1" height="10" fill="#000"/><rect x="274" y="223" width="3" height="8" fill="#000"/><rect x="275" y="224" width="1" height="6" fill="#ff0000"/><rect x="277" y="223" width="1" height="18" fill="#000"/><rect x="276" y="229" width="3" height="2" fill="#000"/><rect x="279" y="228" width="1" height="11" fill="#000"/><rect x="278" y="229" width="3" height="2" fill="#000"/><rect x="281" y="228" width="1" height="4" fill="#000"/><rect x="280" y="230" width="3" height="2" fill="#000"/><rect x="283" y="225" width="1" height="15" fill="#000"/><rect x="282" y="231" width="3" height="3" fill="#000"/><rect x="283" y="232" width="1" height="1" fill="#ff0000"/><rect x="285" y="218" width="1" height="15" fill="#000"/><rect x="284" y="226" width="3" height="7" fill="#000"/><rect x="285" y="227" width="1" height="5" fill="#ffffff"/><rect x="287" y="223" width="1" height="10" fill="#000"/><rect x="286" y="226" width="3" height="1" fill="#000"/><rect x="289" y="216" width="1" height="15" fill="#000"/><rect x="288" y="223" width="3" height="4" fill="#000"/><rect x="289" y="224" width="1" height="2" fill="#ffffff"/><rect x="291" y="208" width="1" height="34" fill="#000"/><rect x="290" y="223" width="3" height="11" fill="#000"/><rect x="291" y="224" width="1" height="9" fill="#ff0000"/><rect x="293" y="204" width="1" height="11" fill="#000"/><rect x="292" y="207" width="3" height="8" fill="#000"/><rect x="293" y="208" width="1" height="6" fill="#ffffff"/><rect x="295" y="194" width="1" height="16" fill="#000"/><rect x="294" y="201" width="3" height="7" fill="#000"/><rect x="295" y="202" width="1" height="5" fill="#ffffff"/><rect x="297" y="190" width="1" height="10" fill="#000"/><rect x="296" y="194" width="3" height="6" fill="#000"/><rect x="297" y="195" width="1" height="4" fill="#ffffff"/><rect x="299" y="193" width="1" height="7" fill="#000"/><rect x="298" y="194" width="3" height="5" fill="#000"/><rect x="299" y="195" width="1" height="3" fill="#ff0000"/><rect x="301" y="193" width="1" height="6" fill="#000"/><rect x="300" y="195" width="3" height="4" fill="#000"/><rect x="301" y="196" width="1" height="2" fill="#ffffff"/><rect x="303" y="192" width="1" height="7" fill="#000"/><rect x="302" y="195" width="3" height="1" fill="#000"/><rect x="305" y="192" width="1" height="6" fill="#000"/><rect x="304" y="195" width="3" height="2" fill="#000"/><rect x="307" y="185" width="1" height="13" fill="#000"/><rect x="306" y="192" width="3" height="5" fill="#000"/><rect x="307" y="193" width="1" height="3" fill="#ffffff"/><rect x="309" y="185" width="1" height="12" fill="#000"/><rect x="308" y="189" width="3" height="4" fill="#000"/><rect x="309" y="190" width="1" height="2" fill="#ffffff"/><rect x="311" y="188" width="1" height="3" fill="#000"/><rect x="310" y="189" width="3" height="2" fill="#000"/><rect x="313" y="186" width="1" height="18" fill="#000"/><rect x="312" y="189" width="3" height="2" fill="#000"/><rect x="315" y="197" width="1" height="4" fill="#000"/><rect x="314" y="197" width="3" height="3" fill="#000"/><rect x="315" y="198" width="1" height="1" fill="#ff0000"/><rect x="317" y="197" width="1" height="8" fill="#000"/><rect x="316" y="199" width="3" height="1" fill="#000"/><rect x="319" y="198" width="1" height="8" fill="#000"/><rect x="318" y="199" width="3" height="1" fill="#000"/><rect x="321" y="198" width="1" height="11" fill="#000"/><rect x="320" y="199" width="3" height="6" fill="#000"/><rect x="321" y="200" width="1" height="4" fill="#ff0000"/><rect x="323" y="198" width="1" height="7" fill="#000"/><rect x="322" y="200" width="3" height="5" fill="#000"/><rect x="323" y="201" width="1" height="3" fill="#ffffff"/><rect x="325" y="197" width="1" height="6" fill="#000"/><rect x="324" y="200" width="3" height="1" fill="#000"/><rect x="327" y="196" width="1" height="7" fill="#000"/><rect x="326" y="198" width="3" height="3" fill="#000"/><rect x="327" y="199" width="1" height="1" fill="#ffffff"/><rect x="329" y="190" width="1" height="13" fill="#000"/><rect x="328" y="194" width="3" height="5" fill="#000"/><rect x="329" y="195" width="1" height="3" fill="#ffffff"/><rect x="331" y="183" width="1" height="10" fill="#000"/><rect x="330" y="190" width="3" height="3" fill="#000"/><rect x="331" y="191" width="1" height="1" fill="#ffffff"/><rect x="333" y="187" width="1" height="6" fill="#000"/><rect x="332" y="188" width="3" height="3" fill="#000"/><rect x="333" y="189" width="1" height="1" fill="#ffffff"/><rect x="335" y="191" width="1" height="7" fill="#000"/><rect x="334" y="191" width="3" height="6" fill="#000"/><rect x="335" y="192" width="1" height="4" fill="#ff0000"/><rect x="337" y="191" width="1" height="10" fill="#000"/><rect x="336" y="195" width="3" height="2" fill="#000"/><rect x="339" y="192" width="1" height="4" fill="#000"/><rect x="338" y="193" width="3" height="3" fill="#000"/><rect x="339" y="194" width="1" height="1" fill="#ffffff"/><rect x="341" y="192" width="1" height="6" fill="#000"/><rect x="340" y="193" width="3" height="3" fill="#000"/><rect x="341" y="194" width="1" height="1" fill="#ff0000"/><rect x="343" y="192" width="1" height="8" fill="#000"/><rect x="342" y="195" width="3" height="2" fill="#000"/><rect x="345" y="195" width="1" height="28" fill="#000"/><rect x="344" y="196" width="3" height="8" fill="#000"/><rect x="345" y="197" width="1" height="6" fill="#ff0000"/><rect x="347" y="199" width="1" height="19" fill="#000"/><rect x="346" y="203" width="3" height="7" fill="#000"/><rect x="347" y="204" width="1" height="5" fill="#ff0000"/><rect x="349" y="205" width="1" height="5" fill="#000"/><rect x="348" y="208" width="3" height="2" fill="#000"/><rect x="351" y="206" width="1" height="16" fill="#000"/><rect x="350" y="208" width="3" height="6" fill="#000"/><rect x="351" y="209" width="1" height="4" fill="#ff0000"/><rect x="353" y="210" width="1" height="23" fill="#000"/><rect x="352" y="213" width="3" height="16" fill="#000"/><rect x="353" y="214" width="1" height="14" fill="#ff0000"/><rect x="355" y="219" width="1" height="12" fill="#000"/><rect x="354" y="220" width="3" height="9" fill="#000"/><rect x="355" y="221" width="1" height="7" fill="#ffffff"/><rect x="357" y="209" width="1" height="3" fill="#000"/><rect x="356" y="210" width="3" height="2" fill="#000"/><rect x="359" y="193" width="1" height="19" fill="#000"/><rect x="358" y="199" width="3" height="12" fill="#000"/><rect x="359" y="200" width="1" height="10" fill="#ffffff"/><rect x="361" y="189" width="1" height="14" fill="#000"/><rect x="360" y="197" width="3" height="3" fill="#000"/><rect x="361" y="198" width="1" height="1" fill="#ffffff"/><rect x="363" y="196" width="1" height="16" fill="#000"/><rect x="362" y="197" width="3" height="13" fill="#000"/><rect x="363" y="198" width="1" height="11" fill="#ff0000"/><rect x="365" y="197" width="1" height="14" fill="#000"/><rect x="364" y="201" width="3" height="9" fill="#000"/><rect x="365" y="202" width="1" height="7" fill="#ffffff"/><rect x="368" y="193" width="1" height="21" fill="#000"/><rect x="367" y="201" width="3" height="10" fill="#000"/><rect x="368" y="202" width="1" height="8" fill="#ff0000"/><rect x="370" y="203" width="1" height="16" fill="#000"/><rect x="369" y="205" width="3" height="6" fill="#000"/><rect x="370" y="206" width="1" height="4" fill="#ffffff"/><rect x="372" y="209" width="1" height="2" fill="#000"/><rect x="371" y="209" width="3" height="2" fill="#000"/><rect x="374" y="209" width="1" height="5" fill="#000"/><rect x="373" y="210" width="3" height="3" fill="#000"/><rect x="374" y="211" width="1" height="1" fill="#ff0000"/><rect x="376" y="209" width="1" height="10" fill="#000"/><rect x="375" y="212" width="3" height="2" fill="#000"/><rect x="378" y="210" width="1" height="9" fill="#000"/><rect x="377" y="213" width="3" height="3" fill="#000"/><rect x="378" y="214" width="1" height="1" fill="#ff0000"/><rect x="380" y="212" width="1" height="7" fill="#000"/><rect x="379" y="215" width="3" height="1" fill="#000"/><rect x="382" y="214" width="1" height="5" fill="#000"/><rect x="381" y="214" width="3" height="2" fill="#000"/><rect x="384" y="166" width="1" height="49" fill="#000"/><rect x="383" y="211" width="3" height="4" fill="#000"/><rect x="384" y="212" width="1" height="2" fill="#ffffff"/><rect x="386" y="207" width="1" height="7" fill="#000"/><rect x="385" y="209" width="3" height="3" fill="#000"/><rect x="386" y="210" width="1" height="1" fill="#ffffff"/><rect x="388" y="191" width="1" height="4" fill="#000"/><rect x="387" y="191" width="3" height="4" fill="#000"/><rect x="388" y="192" width="1" height="2" fill="#ffffff"/><rect x="390" y="178" width="1" height="17" fill="#000"/><rect x="389" y="184" width="3" height="8" fill="#000"/><rect x="390" y="185" width="1" height="6" fill="#ffffff"/><rect x="392" y="183" width="1" height="8" fill="#000"/><rect x="391" y="184" width="3" height="5" fill="#000"/><rect x="392" y="185" width="1" height="3" fill="#ff0000"/><rect x="394" y="188" width="1" height="7" fill="#000"/><rect x="393" y="188" width="3" height="4" fill="#000"/><rect x="394" y="189" width="1" height="2" fill="#ff0000"/><rect x="396" y="184" width="1" height="12" fill="#000"/><rect x="395" y="190" width="3" height="2" fill="#000"/><rect x="398" y="184" width="1" height="12" fill="#000"/><rect x="397" y="188" width="3" height="3" fill="#000"/><rect x="398" y="189" width="1" height="1" fill="#ffffff"/><rect x="400" y="186" width="1" height="5" fill="#000"/><rect x="399" y="188" width="3" height="1" fill="#000"/><rect x="402" y="186" width="1" height="7" fill="#000"/><rect x="401" y="188" width="3" height="4" fill="#000"/><rect x="402" y="189" width="1" height="2" fill="#ff0000"/><rect x="404" y="186" width="1" height="9" fill="#000"/><rect x="403" y="191" width="3" height="3" fill="#000"/><rect x="404" y="192" width="1" height="1" fill="#ff0000"/><rect x="406" y="193" width="1" height="19" fill="#000"/><rect x="405" y="193" width="3" height="13" fill="#000"/><rect x="406" y="194" width="1" height="11" fill="#ff0000"/><rect x="408" y="193" width="1" height="21" fill="#000"/><rect x="407" y="203" width="3" height="3" fill="#000"/><rect x="408" y="204" width="1" height="1" fill="#ffffff"/><rect x="410" y="207" width="1" height="20" fill="#000"/><rect x="409" y="207" width="3" height="11" fill="#000"/><rect x="410" y="208" width="1" height="9" fill="#ff0000"/><rect x="412" y="207" width="1" height="19" fill="#000"/><rect x="411" y="212" width="3" height="6" fill="#000"/><rect x="412" y="213" width="1" height="4" fill="#ffffff"/><rect x="414" y="214" width="1" height="20" fill="#000"/><rect x="413" y="214" width="3" height="14" fill="#000"/><rect x="414" y="215" width="1" height="12" fill="#ff0000"/><rect x="416" y="234" width="1" height="8" fill="#000"/><rect x="415" y="234" width="3" height="3" fill="#000"/><rect x="416" y="235" width="1" height="1" fill="#ff0000"/><rect x="418" y="234" width="1" height="13" fill="#000"/><rect x="417" y="236" width="3" height="8" fill="#000"/><rect x="418" y="237" width="1" height="6" fill="#ff0000"/><rect x="420" y="236" width="1" height="11" fill="#000"/><rect x="419" y="239" width="3" height="5" fill="#000"/><rect x="420" y="240" width="1" height="3" fill="#ffffff"/><rect x="422" y="233" width="1" height="11" fill="#000"/><rect x="421" y="239" width="3" height="2" fill="#000"/><rect x="424" y="214" width="1" height="30" fill="#000"/><rect x="423" y="231" width="3" height="10" fill="#000"/><rect x="424" y="232" width="1" height="8" fill="#ffffff"/><rect x="426" y="229" width="1" height="8" fill="#000"/><rect x="425" y="231" width="3" height="3" fill="#000"/><rect x="426" y="232" width="1" height="1" fill="#ff0000"/><rect x="428" y="222" width="1" height="10" fill="#000"/><rect x="427" y="227" width="3" height="5" fill="#000"/><rect x="428" y="228" width="1" height="3" fill="#ffffff"/><rect x="430" y="216" width="1" height="16" fill="#000"/><rect x="429" y="224" width="3" height="4" fill="#000"/><rect x="430" y="225" width="1" height="2" fill="#ffffff"/><rect x="432" y="194" width="1" height="23" fill="#000"/><rect x="431" y="199" width="3" height="18" fill="#000"/><rect x="432" y="200" width="1" height="16" fill="#ffffff"/><rect x="434" y="183" width="1" height="23" fill="#000"/><rect x="433" y="193" width="3" height="7" fill="#000"/><rect x="434" y="194" width="1" height="5" fill="#ffffff"/><rect x="436" y="193" width="1" height="3" fill="#000"/><rect x="435" y="193" width="3" height="2" fill="#000"/><rect x="438" y="188" width="1" height="11" fill="#000"/><rect x="437" y="194" width="3" height="2" fill="#000"/><rect x="440" y="183" width="1" height="20" fill="#000"/><rect x="439" y="195" width="3" height="3" fill="#000"/><rect x="440" y="196" width="1" height="1" fill="#ff0000"/><rect x="442" y="182" width="1" height="9" fill="#000"/><rect x="441" y="185" width="3" height="6" fill="#000"/><rect x="442" y="186" width="1" height="4" fill="#ffffff"/><rect x="444" y="181" width="1" height="10" fill="#000"/><rect x="443" y="185" width="3" height="1" fill="#000"/><rect x="446" y="187" width="1" height="16" fill="#000"/><rect x="445" y="187" width="3" height="8" fill="#000"/><rect x="446" y="188" width="1" height="6" fill="#ff0000"/><rect x="448" y="200" width="1" height="13" fill="#000"/><rect x="447" y="200" width="3" height="6" fill="#000"/><rect x="448" y="201" width="1" height="4" fill="#ff0000"/><rect x="450" y="190" width="1" height="19" fill="#000"/><rect x="449" y="197" width="3" height="9" fill="#000"/><rect x="450" y="198" width="1" height="7" fill="#ffffff"/><rect x="452" y="191" width="1" height="34" fill="#000"/><rect x="451" y="197" width="3" height="18" fill="#000"/><rect x="452" y="198" width="1" height="16" fill="#ff0000"/><rect x="454" y="202" width="1" height="8" fill="#000"/><rect x="453" y="207" width="3" height="3" fill="#000"/><rect x="454" y="208" width="1" height="1" fill="#ffffff"/><rect x="456" y="201" width="1" height="9" fill="#000"/><rect x="455" y="206" width="3" height="2" fill="#000"/><rect x="458" y="211" width="1" height="8" fill="#000"/><rect x="457" y="211" width="3" height="3" fill="#000"/><rect x="458" y="212" width="1" height="1" fill="#ff0000"/><rect x="460" y="211" width="1" height="5" fill="#000"/><rect x="459" y="213" width="3" height="3" fill="#000"/><rect x="460" y="214" width="1" height="1" fill="#ff0000"/><rect x="462" y="211" width="1" height="8" fill="#000"/><rect x="461" y="215" width="3" height="1" fill="#000"/><rect x="464" y="218" width="1" height="2" fill="#000"/><rect x="463" y="218" width="3" height="2" fill="#000"/><rect x="466" y="218" width="1" height="27" fill="#000"/><rect x="465" y="219" width="3" height="10" fill="#000"/><rect x="466" y="220" width="1" height="8" fill="#ff0000"/><rect x="468" y="222" width="1" height="8" fill="#000"/><rect x="467" y="223" width="3" height="6" fill="#000"/><rect x="468" y="224" width="1" height="4" fill="#ffffff"/><rect x="470" y="212" width="1" height="36" fill="#000"/><rect x="469" y="223" width="3" height="12" fill="#000"/><rect x="470" y="224" width="1" height="10" fill="#ff0000"/><rect x="472" y="225" width="1" height="14" fill="#000"/><rect x="471" y="234" width="3" height="1" fill="#000"/><rect x="474" y="229" width="1" height="19" fill="#000"/><rect x="473" y="234" width="3" height="6" fill="#000"/><rect x="474" y="235" width="1" height="4" fill="#ff0000"/><rect x="476" y="229" width="1" height="11" fill="#000"/><rect x="475" y="235" width="3" height="5" fill="#000"/><rect x="476" y="236" width="1" height="3" fill="#ffffff"/><rect x="478" y="237" width="1" height="13" fill="#000"/><rect x="477" y="237" width="3" height="5" fill="#000"/><rect x="478" y="238" width="1" height="3" fill="#ff0000"/><rect x="480" y="241" width="1" height="10" fill="#000"/><rect x="479" y="241" width="3" height="5" fill="#000"/><rect x="480" y="242" width="1" height="3" fill="#ff0000"/><rect x="482" y="242" width="1" height="18" fill="#000"/><rect x="481" y="245" width="3" height="11" fill="#000"/><rect x="482" y="246" width="1" height="9" fill="#ff0000"/><rect x="485" y="252" width="1" height="7" fill="#000"/><rect x="484" y="254" width="3" height="2" fill="#000"/><rect x="487" y="244" width="1" height="14" fill="#000"/><rect x="486" y="251" width="3" height="4" fill="#000"/><rect x="487" y="252" width="1" height="2" fill="#ffffff"/><rect x="489" y="250" width="1" height="16" fill="#000"/><rect x="488" y="251" width="3" height="13" fill="#000"/><rect x="489" y="252" width="1" height="11" fill="#ff0000"/><rect x="491" y="250" width="1" height="25" fill="#000"/><rect x="490" y="257" width="3" height="7" fill="#000"/><rect x="491" y="258" width="1" height="5" fill="#ffffff"/><rect x="493" y="256" width="1" height="19" fill="#000"/><rect x="492" y="257" width="3" height="5" fill="#000"/><rect x="493" y="258" width="1" height="3" fill="#ff0000"/><rect x="495" y="251" width="1" height="15" fill="#000"/><rect x="494" y="261" width="3" height="5" fill="#000"/><rect x="495" y="262" width="1" height="3" fill="#ff0000"/><rect x="497" y="244" width="1" height="8" fill="#000"/><rect x="496" y="248" width="3" height="4" fill="#000"/><rect x="497" y="249" width="1" height="2" fill="#ffffff"/><rect x="499" y="238" width="1" height="13" fill="#000"/><rect x="498" y="243" width="3" height="6" fill="#000"/><rect x="499" y="244" width="1" height="4" fill="#ffffff"/><rect x="501" y="237" width="1" height="8" fill="#000"/><rect x="500" y="240" width="3" height="4" fill="#000"/><rect x="501" y="241" width="1" height="2" fill="#ffffff"/><rect x="503" y="238" width="1" height="17" fill="#000"/><rect x="502" y="240" width="3" height="11" fill="#000"/><rect x="503" y="241" width="1" height="9" fill="#ff0000"/><rect x="505" y="237" width="1" height="20" fill="#000"/><rect x="504" y="244" width="3" height="7" fill="#000"/><rect x="505" y="245" width="1" height="5" fill="#ffffff"/><rect x="507" y="239" width="1" height="11" fill="#000"/><rect x="506" y="244" width="3" height="1" fill="#000"/><rect x="509" y="239" width="1" height="10" fill="#000"/><rect x="508" y="244" width="3" height="3" fill="#000"/><rect x="509" y="245" width="1" height="1" fill="#ff0000"/><rect x="511" y="246" width="1" height="12" fill="#000"/><rect x="510" y="246" width="3" height="7" fill="#000"/><rect x="511" y="247" width="1" height="5" fill="#ff0000"/><rect x="513" y="206" width="1" height="28" fill="#000"/><rect x="512" y="207" width="3" height="26" fill="#000"/><rect x="513" y="208" width="1" height="24" fill="#ffffff"/><rect x="515" y="206" width="1" height="27" fill="#000"/><rect x="514" y="228" width="3" height="1" fill="#000"/><rect x="517" y="201" width="1" height="8" fill="#000"/><rect x="516" y="207" width="3" height="2" fill="#000"/><rect x="519" y="198" width="1" height="11" fill="#000"/><rect x="518" y="203" width="3" height="5" fill="#000"/><rect x="519" y="204" width="1" height="3" fill="#ffffff"/><rect x="521" y="196" width="1" height="9" fill="#000"/><rect x="520" y="198" width="3" height="6" fill="#000"/><rect x="521" y="199" width="1" height="4" fill="#ffffff"/><rect x="523" y="197" width="1" height="8" fill="#000"/><rect x="522" y="198" width="3" height="2" fill="#000"/><rect x="525" y="198" width="1" height="8" fill="#000"/><rect x="524" y="199" width="3" height="3" fill="#000"/><rect x="525" y="200" width="1" height="1" fill="#ff0000"/><rect x="527" y="197" width="1" height="14" fill="#000"/><rect x="526" y="201" width="3" height="7" fill="#000"/><rect x="527" y="202" width="1" height="5" fill="#ff0000"/><rect x="529" y="197" width="1" height="6" fill="#000"/><rect x="528" y="199" width="3" height="4" fill="#000"/><rect x="529" y="200" width="1" height="2" fill="#ffffff"/><rect x="531" y="187" width="1" height="16" fill="#000"/><rect x="530" y="196" width="3" height="4" fill="#000"/><rect x="531" y="197" width="1" height="2" fill="#ffffff"/><rect x="533" y="198" width="1" height="6" fill="#000"/><rect x="532" y="198" width="3" height="3" fill="#000"/><rect x="533" y="199" width="1" height="1" fill="#ff0000"/><rect x="535" y="198" width="1" height="8" fill="#000"/><rect x="534" y="199" width="3" height="2" fill="#000"/><rect x="537" y="198" width="1" height="12" fill="#000"/><rect x="536" y="199" width="3" height="10" fill="#000"/><rect x="537" y="200" width="1" height="8" fill="#ff0000"/><rect x="539" y="198" width="1" height="12" fill="#000"/><rect x="538" y="204" width="3" height="5" fill="#000"/><rect x="539" y="205" width="1" height="3" fill="#ffffff"/><rect x="541" y="194" width="1" height="13" fill="#000"/><rect x="540" y="200" width="3" height="5" fill="#000"/><rect x="541" y="201" width="1" height="3" fill="#ffffff"/><rect x="543" y="199" width="1" height="8" fill="#000"/><rect x="542" y="200" width="3" height="3" fill="#000"/><rect x="543" y="201" width="1" height="1" fill="#ff0000"/><rect x="545" y="192" width="1" height="6" fill="#000"/><rect x="544" y="194" width="3" height="4" fill="#000"/><rect x="545" y="195" width="1" height="2" fill="#ffffff"/><rect x="547" y="183" width="1" height="14" fill="#000"/><rect x="546" y="187" width="3" height="8" fill="#000"/><rect x="547" y="188" width="1" height="6" fill="#ffffff"/><rect x="549" y="183" width="1" height="11" fill="#000"/><rect x="548" y="187" width="3" height="4" fill="#000"/><rect x="549" y="188" width="1" height="2" fill="#ff0000"/><rect x="551" y="188" width="1" height="10" fill="#000"/><rect x="550" y="190" width="3" height="5" fill="#000"/><rect x="551" y="191" width="1" height="3" fill="#ff0000"/><rect x="553" y="144" width="1" height="26" fill="#000"/><rect x="552" y="147" width="3" height="22" fill="#000"/><rect x="553" y="148" width="1" height="20" fill="#ffffff"/><rect x="555" y="165" width="1" height="5" fill="#000"/><rect x="554" y="166" width="3" height="2" fill="#000"/><rect x="557" y="147" width="1" height="22" fill="#000"/><rect x="556" y="153" width="3" height="15" fill="#000"/><rect x="557" y="154" width="1" height="13" fill="#ffffff"/><rect x="559" y="144" width="1" height="18" fill="#000"/><rect x="558" y="152" width="3" height="2" fill="#000"/><rect x="561" y="144" width="1" height="19" fill="#000"/><rect x="560" y="152" width="3" height="10" fill="#000"/><rect x="561" y="153" width="1" height="8" fill="#ff0000"/><rect x="563" y="157" width="1" height="10" fill="#000"/><rect x="562" y="160" width="3" height="2" fill="#000"/><rect x="565" y="153" width="1" height="16" fill="#000"/><rect x="564" y="154" width="3" height="7" fill="#000"/><rect x="565" y="155" width="1" height="5" fill="#ffffff"/><rect x="567" y="148" width="1" height="8" fill="#000"/><rect x="566" y="151" width="3" height="4" fill="#000"/><rect x="567" y="152" width="1" height="2" fill="#ffffff"/><rect x="569" y="148" width="1" height="13" fill="#000"/><rect x="568" y="151" width="3" height="6" fill="#000"/><rect x="569" y="152" width="1" height="4" fill="#ff0000"/><rect x="571" y="153" width="1" height="12" fill="#000"/><rect x="570" y="156" width="3" height="6" fill="#000"/><rect x="571" y="157" width="1" height="4" fill="#ff0000"/><rect x="573" y="155" width="1" height="14" fill="#000"/><rect x="572" y="161" width="3" height="5" fill="#000"/><rect x="573" y="162" width="1" height="3" fill="#ff0000"/><rect x="575" y="158" width="1" height="11" fill="#000"/><rect x="574" y="161" width="3" height="5" fill="#000"/><rect x="575" y="162" width="1" height="3" fill="#ffffff"/><rect x="577" y="155" width="1" height="6" fill="#000"/><rect x="576" y="158" width="3" height="3" fill="#000"/><rect x="577" y="159" width="1" height="1" fill="#ffffff"/><rect x="579" y="151" width="1" height="10" fill="#000"/><rect x="578" y="156" width="3" height="3" fill="#000"/><rect x="579" y="157" width="1" height="1" fill="#ffffff"/><rect x="581" y="154" width="1" height="5" fill="#000"/><rect x="580" y="156" width="3" height="2" fill="#000"/><rect x="583" y="145" width="1" height="14" fill="#000"/><rect x="582" y="151" width="3" height="7" fill="#000"/><rect x="583" y="152" width="1" height="5" fill="#ffffff"/><rect x="585" y="141" width="1" height="16" fill="#000"/><rect x="584" y="145" width="3" height="7" fill="#000"/><rect x="585" y="146" width="1" height="5" fill="#ffffff"/><rect x="587" y="143" width="1" height="15" fill="#000"/><rect x="586" y="145" width="3" height="8" fill="#000"/><rect x="587" y="146" width="1" height="6" fill="#ff0000"/><rect x="589" y="149" width="1" height="10" fill="#000"/><rect x="588" y="151" width="3" height="2" fill="#000"/><rect x="591" y="145" width="1" height="15" fill="#000"/><rect x="590" y="149" width="3" height="3" fill="#000"/><rect x="591" y="150" width="1" height="1" fill="#ffffff"/><rect x="593" y="145" width="1" height="24" fill="#000"/><rect x="592" y="149" width="3" height="16" fill="#000"/><rect x="593" y="150" width="1" height="14" fill="#ff0000"/><rect x="595" y="157" width="1" height="9" fill="#000"/><rect x="594" y="158" width="3" height="7" fill="#000"/><rect x="595" y="159" width="1" height="5" fill="#ffffff"/><rect x="597" y="157" width="1" height="7" fill="#000"/><rect x="596" y="158" width="3" height="2" fill="#000"/><rect x="599" y="149" width="1" height="15" fill="#000"/><rect x="598" y="151" width="3" height="9" fill="#000"/><rect x="599" y="152" width="1" height="7" fill="#ffffff"/><rect x="601" y="149" width="1" height="15" fill="#000"/><rect x="600" y="151" width="3" height="8" fill="#000"/><rect x="601" y="152" width="1" height="6" fill="#ff0000"/><rect x="604" y="153" width="1" height="11" fill="#000"/><rect x="603" y="154" width="3" height="5" fill="#000"/><rect x="604" y="155" width="1" height="3" fill="#ffffff"/><rect x="606" y="154" width="1" height="10" fill="#000"/><rect x="605" y="154" width="3" height="7" fill="#000"/><rect x="606" y="155" width="1" height="5" fill="#ff0000"/><rect x="608" y="154" width="1" height="10" fill="#000"/><rect x="607" y="157" width="3" height="4" fill="#000"/><rect x="608" y="158" width="1" height="2" fill="#ffffff"/><rect x="610" y="156" width="1" height="7" fill="#000"/><rect x="609" y="157" width="3" height="3" fill="#000"/><rect x="610" y="158" width="1" height="1" fill="#ff0000"/><rect x="612" y="149" width="1" height="12" fill="#000"/><rect x="611" y="154" width="3" height="6" fill="#000"/><rect x="612" y="155" width="1" height="4" fill="#ffffff"/><rect x="614" y="164" width="1" height="16" fill="#000"/><rect x="613" y="164" width="3" height="13" fill="#000"/><rect x="614" y="165" width="1" height="11" fill="#ff0000"/><rect x="616" y="169" width="1" height="27" fill="#000"/><rect x="615" y="175" width="3" height="2" fill="#000"/><rect x="618" y="175" width="1" height="18" fill="#000"/><rect x="617" y="175" width="3" height="10" fill="#000"/><rect x="618" y="176" width="1" height="8" fill="#ff0000"/><rect x="620" y="182" width="1" height="11" fill="#000"/><rect x="619" y="184" width="3" height="4" fill="#000"/><rect x="620" y="185" width="1" height="2" fill="#ff0000"/><rect x="622" y="182" width="1" height="9" fill="#000"/><rect x="621" y="185" width="3" height="3" fill="#000"/><rect x="622" y="186" width="1" height="1" fill="#ffffff"/><rect x="624" y="187" width="1" height="11" fill="#000"/><rect x="623" y="187" width="3" height="5" fill="#000"/><rect x="624" y="188" width="1" height="3" fill="#ff0000"/><rect x="626" y="192" width="1" height="21" fill="#000"/><rect x="625" y="192" width="3" height="5" fill="#000"/><rect x="626" y="193" width="1" height="3" fill="#ff0000"/><rect x="628" y="192" width="1" height="9" fill="#000"/><rect x="627" y="196" width="3" height="1" fill="#000"/><rect x="630" y="193" width="1" height="11" fill="#000"/><rect x="629" y="196" width="3" height="5" fill="#000"/><rect x="630" y="197" width="1" height="3" fill="#ff0000"/><rect x="632" y="199" width="1" height="9" fill="#000"/><rect x="631" y="200" width="3" height="3" fill="#000"/><rect x="632" y="201" width="1" height="1" fill="#ff0000"/><rect x="634" y="186" width="1" height="7" fill="#000"/><rect x="633" y="188" width="3" height="5" fill="#000"/><rect x="634" y="189" width="1" height="3" fill="#ffffff"/><rect x="636" y="171" width="1" height="21" fill="#000"/><rect x="635" y="177" width="3" height="12" fill="#000"/><rect x="636" y="178" width="1" height="10" fill="#ffffff"/><rect x="638" y="165" width="1" height="27" fill="#000"/><rect x="637" y="172" width="3" height="6" fill="#000"/><rect x="638" y="173" width="1" height="4" fill="#ffffff"/><rect x="640" y="156" width="1" height="15" fill="#000"/><rect x="639" y="166" width="3" height="5" fill="#000"/><rect x="640" y="167" width="1" height="3" fill="#ffffff"/><rect x="642" y="149" width="1" height="14" fill="#000"/><rect x="641" y="156" width="3" height="7" fill="#000"/><rect x="642" y="157" width="1" height="5" fill="#ffffff"/><rect x="644" y="153" width="1" height="10" fill="#000"/><rect x="643" y="155" width="3" height="2" fill="#000"/><rect x="646" y="138" width="1" height="16" fill="#000"/><rect x="645" y="145" width="3" height="9" fill="#000"/><rect x="646" y="146" width="1" height="7" fill="#ffffff"/><rect x="648" y="140" width="1" height="10" fill="#000"/><rect x="647" y="145" width="3" height="2" fill="#000"/><rect x="650" y="140" width="1" height="5" fill="#000"/><rect x="649" y="141" width="3" height="4" fill="#000"/><rect x="650" y="142" width="1" height="2" fill="#ffffff"/><rect x="652" y="135" width="1" height="8" fill="#000"/><rect x="651" y="139" width="3" height="3" fill="#000"/><rect x="652" y="140" width="1" height="1" fill="#ffffff"/><rect x="654" y="122" width="1" height="17" fill="#000"/><rect x="653" y="128" width="3" height="11" fill="#000"/><rect x="654" y="129" width="1" height="9" fill="#ffffff"/><rect x="656" y="118" width="1" height="11" fill="#000"/><rect x="655" y="125" width="3" height="4" fill="#000"/><rect x="656" y="126" width="1" height="2" fill="#ffffff"/><rect x="658" y="106" width="1" height="16" fill="#000"/><rect x="657" y="114" width="3" height="8" fill="#000"/><rect x="658" y="115" width="1" height="6" fill="#ffffff"/><rect x="660" y="102" width="1" height="8" fill="#000"/><rect x="659" y="106" width="3" height="4" fill="#000"/><rect x="660" y="107" width="1" height="2" fill="#ffffff"/><rect x="662" y="99" width="1" height="11" fill="#000"/><rect x="661" y="103" width="3" height="4" fill="#000"/><rect x="662" y="104" width="1" height="2" fill="#ffffff"/><rect x="664" y="99" width="1" height="8" fill="#000"/><rect x="663" y="101" width="3" height="3" fill="#000"/><rect x="664" y="102" width="1" height="1" fill="#ffffff"/><rect x="666" y="94" width="1" height="12" fill="#000"/><rect x="665" y="101" width="3" height="3" fill="#000"/><rect x="666" y="102" width="1" height="1" fill="#ff0000"/><rect x="668" y="101" width="1" height="12" fill="#000"/><rect x="667" y="102" width="3" height="2" fill="#000"/><rect x="670" y="96" width="1" height="14" fill="#000"/><rect x="669" y="102" width="3" height="6" fill="#000"/><rect x="670" y="103" width="1" height="4" fill="#ff0000"/><rect x="672" y="100" width="1" height="22" fill="#000"/><rect x="671" y="107" width="3" height="4" fill="#000"/><rect x="672" y="108" width="1" height="2" fill="#ff0000"/><rect x="674" y="104" width="1" height="10" fill="#000"/><rect x="673" y="106" width="3" height="5" fill="#000"/><rect x="674" y="107" width="1" height="3" fill="#ffffff"/><rect x="676" y="101" width="1" height="5" fill="#000"/><rect x="675" y="103" width="3" height="3" fill="#000"/><rect x="676" y="104" width="1" height="1" fill="#ffffff"/><rect x="678" y="99" width="1" height="7" fill="#000"/><rect x="677" y="100" width="3" height="4" fill="#000"/><rect x="678" y="101" width="1" height="2" fill="#ffffff"/><rect x="680" y="94" width="1" height="12" fill="#000"/><rect x="679" y="97" width="3" height="4" fill="#000"/><rect x="680" y="98" width="1" height="2" fill="#ffffff"/><rect x="682" y="95" width="1" height="10" fill="#000"/><rect x="681" y="97" width="3" height="6" fill="#000"/><rect x="682" y="98" width="1" height="4" fill="#ff0000"/><rect x="684" y="101" width="1" height="10" fill="#000"/><rect x="683" y="102" width="3" height="1" fill="#000"/><rect x="686" y="101" width="1" height="6" fill="#000"/><rect x="685" y="102" width="3" height="1" fill="#000"/><rect x="688" y="101" width="1" height="10" fill="#000"/><rect x="687" y="102" width="3" height="5" fill="#000"/><rect x="688" y="103" width="1" height="3" fill="#ff0000"/><rect x="690" y="101" width="1" height="13" fill="#000"/><rect x="689" y="106" width="3" height="4" fill="#000"/><rect x="690" y="107" width="1" height="2" fill="#ff0000"/><rect x="692" y="102" width="1" height="8" fill="#000"/><rect x="691" y="107" width="3" height="3" fill="#000"/><rect x="692" y="108" width="1" height="1" fill="#ffffff"/><rect x="694" y="100" width="1" height="9" fill="#000"/><rect x="693" y="103" width="3" height="5" fill="#000"/><rect x="694" y="104" width="1" height="3" fill="#ffffff"/><rect x="696" y="100" width="1" height="21" fill="#000"/><rect x="695" y="103" width="3" height="8" fill="#000"/><rect x="696" y="104" width="1" height="6" fill="#ff0000"/><rect x="698" y="97" width="1" height="5" fill="#000"/><rect x="697" y="97" width="3" height="5" fill="#000"/><rect x="698" y="98" width="1" height="3" fill="#ffffff"/><rect x="700" y="80" width="1" height="22" fill="#000"/><rect x="699" y="87" width="3" height="11" fill="#000"/><rect x="700" y="88" width="1" height="9" fill="#ffffff"/><rect x="702" y="84" width="1" height="10" fill="#000"/><rect x="701" y="87" width="3" height="7" fill="#000"/><rect x="702" y="88" width="1" height="5" fill="#ff0000"/><rect x="704" y="78" width="1" height="14" fill="#000"/><rect x="703" y="88" width="3" height="4" fill="#000"/><rect x="704" y="89" width="1" height="2" fill="#ffffff"/><rect x="706" y="83" width="1" height="9" fill="#000"/><rect x="705" y="86" width="3" height="3" fill="#000"/><rect x="706" y="87" width="1" height="1" fill="#ffffff"/><rect x="708" y="85" width="1" height="8" fill="#000"/><rect x="707" y="86" width="3" height="1" fill="#000"/><rect x="710" y="85" width="1" height="15" fill="#000"/><rect x="709" y="86" width="3" height="10" fill="#000"/><rect x="710" y="87" width="1" height="8" fill="#ff0000"/><rect x="712" y="80" width="1" height="19" fill="#000"/><rect x="711" y="85" width="3" height="11" fill="#000"/><rect x="712" y="86" width="1" height="9" fill="#ffffff"/><rect x="714" y="83" width="1" height="16" fill="#000"/><rect x="713" y="85" width="3" height="6" fill="#000"/><rect x="714" y="86" width="1" height="4" fill="#ff0000"/><rect x="716" y="84" width="1" height="13" fill="#000"/><rect x="715" y="90" width="3" height="1" fill="#000"/><rect x="718" y="86" width="1" height="7" fill="#000"/><rect x="717" y="90" width="3" height="1" fill="#000"/><rect x="720" y="90" width="1" height="13" fill="#000"/><rect x="719" y="90" width="3" height="7" fill="#000"/><rect x="720" y="91" width="1" height="5" fill="#ff0000"/><rect x="723" y="92" width="1" height="10" fill="#000"/><rect x="722" y="95" width="3" height="2" fill="#000"/><rect x="725" y="91" width="1" height="10" fill="#000"/><rect x="724" y="95" width="3" height="4" fill="#000"/><rect x="725" y="96" width="1" height="2" fill="#ff0000"/><rect x="727" y="88" width="1" height="12" fill="#000"/><rect x="726" y="92" width="3" height="7" fill="#000"/><rect x="727" y="93" width="1" height="5" fill="#ffffff"/><rect x="729" y="91" width="1" height="12" fill="#000"/><rect x="728" y="92" width="3" height="7" fill="#000"/><rect x="729" y="93" width="1" height="5" fill="#ff0000"/><rect x="731" y="103" width="1" height="22" fill="#000"/><rect x="730" y="103" width="3" height="11" fill="#000"/><rect x="731" y="104" width="1" height="9" fill="#ff0000"/><rect x="733" y="109" width="1" height="5" fill="#000"/><rect x="732" y="112" width="3" height="2" fill="#000"/><rect x="735" y="102" width="1" height="13" fill="#000"/><rect x="734" y="112" width="3" height="2" fill="#000"/><rect x="737" y="110" width="1" height="9" fill="#000"/><rect x="736" y="113" width="3" height="4" fill="#000"/><rect x="737" y="114" width="1" height="2" fill="#ff0000"/><rect x="739" y="114" width="1" height="9" fill="#000"/><rect x="738" y="116" width="3" height="1" fill="#000"/><rect x="741" y="110" width="1" height="10" fill="#000"/><rect x="740" y="113" width="3" height="4" fill="#000"/><rect x="741" y="114" width="1" height="2" fill="#ffffff"/><rect x="743" y="106" width="1" height="12" fill="#000"/><rect x="742" y="113" width="3" height="2" fill="#000"/><rect x="745" y="116" width="1" height="19" fill="#000"/><rect x="744" y="116" width="3" height="11" fill="#000"/><rect x="745" y="117" width="1" height="9" fill="#ff0000"/><rect x="747" y="124" width="1" height="4" fill="#000"/><rect x="746" y="125" width="3" height="2" fill="#000"/><rect x="749" y="116" width="1" height="15" fill="#000"/><rect x="748" y="122" width="3" height="4" fill="#000"/><rect x="749" y="123" width="1" height="2" fill="#ffffff"/><rect x="751" y="120" width="1" height="11" fill="#000"/><rect x="750" y="122" width="3" height="5" fill="#000"/><rect x="751" y="123" width="1" height="3" fill="#ff0000"/><rect x="753" y="120" width="1" height="18" fill="#000"/><rect x="752" y="126" width="3" height="3" fill="#000"/><rect x="753" y="127" width="1" height="1" fill="#ff0000"/><rect x="755" y="123" width="1" height="11" fill="#000"/><rect x="754" y="124" width="3" height="5" fill="#000"/><rect x="755" y="125" width="1" height="3" fill="#ffffff"/><rect x="757" y="113" width="1" height="16" fill="#000"/><rect x="756" y="124" width="3" height="1" fill="#000"/><rect x="759" y="118" width="1" height="11" fill="#000"/><rect x="758" y="121" width="3" height="4" fill="#000"/><rect x="759" y="122" width="1" height="2" fill="#ffffff"/><rect x="761" y="103" width="1" height="14" fill="#000"/><rect x="760" y="109" width="3" height="8" fill="#000"/><rect x="761" y="110" width="1" height="6" fill="#ffffff"/><rect x="763" y="107" width="1" height="46" fill="#000"/><rect x="762" y="109" width="3" height="33" fill="#000"/><rect x="763" y="110" width="1" height="31" fill="#ff0000"/><rect x="765" y="104" width="1" height="131" fill="#000"/><rect x="764" y="107" width="3" height="89" fill="#000"/><rect x="765" y="108" width="1" height="87" fill="#ff0000"/><rect x="767" y="195" width="1" height="9" fill="#000"/><rect x="766" y="195" width="3" height="8" fill="#000"/><rect x="767" y="196" width="1" height="6" fill="#ff0000"/><rect x="769" y="201" width="1" height="16" fill="#000"/><rect x="768" y="202" width="3" height="14" fill="#000"/><rect x="769" y="203" width="1" height="12" fill="#ff0000"/><rect x="771" y="214" width="1" height="19" fill="#000"/><rect x="770" y="215" width="3" height="17" fill="#000"/><rect x="771" y="216" width="1" height="15" fill="#ff0000"/><rect x="773" y="230" width="1" height="12" fill="#000"/><rect x="772" y="231" width="3" height="10" fill="#000"/><rect x="773" y="232" width="1" height="8" fill="#ff0000"/><rect x="775" y="203" width="1" height="38" fill="#000"/><rect x="774" y="204" width="3" height="7" fill="#000"/><rect x="775" y="205" width="1" height="5" fill="#ff0000"/><rect x="777" y="233" width="1" height="18" fill="#000"/><rect x="776" y="233" width="3" height="8" fill="#000"/><rect x="777" y="234" width="1" height="6" fill="#ff0000"/><rect x="779" y="234" width="1" height="15" fill="#000"/><rect x="778" y="240" width="3" height="2" fill="#000"/><rect x="781" y="232" width="1" height="17" fill="#000"/><rect x="780" y="240" width="3" height="2" fill="#000"/><rect x="783" y="240" width="1" height="2" fill="#000"/><rect x="782" y="240" width="3" height="2" fill="#000"/><rect x="785" y="240" width="1" height="8" fill="#000"/><rect x="784" y="241" width="3" height="4" fill="#000"/><rect x="785" y="242" width="1" height="2" fill="#ff0000"/><rect x="787" y="240" width="1" height="9" fill="#000"/><rect x="786" y="244" width="3" height="4" fill="#000"/><rect x="787" y="245" width="1" height="2" fill="#ff0000"/><rect x="789" y="232" width="1" height="26" fill="#000"/><rect x="788" y="247" width="3" height="4" fill="#000"/><rect x="789" y="248" width="1" height="2" fill="#ff0000"/><rect x="791" y="224" width="1" height="23" fill="#000"/><rect x="790" y="239" width="3" height="8" fill="#000"/><rect x="791" y="240" width="1" height="6" fill="#ffffff"/><rect x="793" y="233" width="1" height="14" fill="#000"/><rect x="792" y="234" width="3" height="6" fill="#000"/><rect x="793" y="235" width="1" height="4" fill="#ffffff"/><rect x="795" y="209" width="1" height="14" fill="#000"/><rect x="794" y="212" width="3" height="11" fill="#000"/><rect x="795" y="213" width="1" height="9" fill="#ffffff"/><rect x="797" y="195" width="1" height="28" fill="#000"/><rect x="796" y="202" width="3" height="11" fill="#000"/><rect x="797" y="203" width="1" height="9" fill="#ffffff"/><rect x="799" y="185" width="1" height="12" fill="#000"/><rect x="798" y="192" width="3" height="5" fill="#000"/><rect x="799" y="193" width="1" height="3" fill="#ffffff"/><rect x="801" y="185" width="1" height="12" fill="#000"/><rect x="800" y="192" width="3" height="1" fill="#000"/><rect x="803" y="184" width="1" height="5" fill="#000"/><rect x="802" y="187" width="3" height="2" fill="#000"/><rect x="805" y="182" width="1" height="7" fill="#000"/><rect x="804" y="185" width="3" height="3" fill="#000"/><rect x="805" y="186" width="1" height="1" fill="#ffffff"/><rect x="807" y="182" width="1" height="4" fill="#000"/><rect x="806" y="183" width="3" height="3" fill="#000"/><rect x="807" y="184" width="1" height="1" fill="#ffffff"/><rect x="809" y="186" width="1" height="13" fill="#000"/><rect x="808" y="186" width="3" height="8" fill="#000"/><rect x="809" y="187" width="1" height="6" fill="#ff0000"/><rect x="811" y="186" width="1" height="9" fill="#000"/><rect x="810" y="193" width="3" height="1" fill="#000"/><rect x="813" y="204" width="1" height="12" fill="#000"/><rect x="812" y="204" width="3" height="8" fill="#000"/><rect x="813" y="205" width="1" height="6" fill="#ff0000"/><rect x="815" y="205" width="1" height="26" fill="#000"/><rect x="814" y="211" width="3" height="17" fill="#000"/><rect x="815" y="212" width="1" height="15" fill="#ff0000"/><rect x="817" y="224" width="1" height="11" fill="#000"/><rect x="816" y="225" width="3" height="3" fill="#000"/><rect x="817" y="226" width="1" height="1" fill="#ffffff"/><rect x="819" y="225" width="1" height="8" fill="#000"/><rect x="818" y="225" width="3" height="4" fill="#000"/><rect x="819" y="226" width="1" height="2" fill="#ff0000"/><rect x="821" y="227" width="1" height="7" fill="#000"/><rect x="820" y="228" width="3" height="3" fill="#000"/><rect x="821" y="229" width="1" height="1" fill="#ff0000"/><rect x="823" y="225" width="1" height="17" fill="#000"/><rect x="822" y="230" width="3" height="2" fill="#000"/><rect x="825" y="235" width="1" height="16" fill="#000"/><rect x="824" y="235" width="3" height="8" fill="#000"/><rect x="825" y="236" width="1" height="6" fill="#ff0000"/><rect x="827" y="241" width="1" height="5" fill="#000"/><rect x="826" y="242" width="3" height="1" fill="#000"/><rect x="829" y="241" width="1" height="20" fill="#000"/><rect x="828" y="242" width="3" height="19" fill="#000"/><rect x="829" y="243" width="1" height="17" fill="#ff0000"/><rect x="831" y="257" width="1" height="17" fill="#000"/><rect x="830" y="260" width="3" height="3" fill="#000"/><rect x="831" y="261" width="1" height="1" fill="#ff0000"/><rect x="833" y="258" width="1" height="11" fill="#000"/><rect x="832" y="261" width="3" height="2" fill="#000"/><rect x="835" y="247" width="1" height="17" fill="#000"/><rect x="834" y="258" width="3" height="4" fill="#000"/><rect x="835" y="259" width="1" height="2" fill="#ffffff"/><rect x="837" y="250" width="1" height="21" fill="#000"/><rect x="836" y="258" width="3" height="8" fill="#000"/><rect x="837" y="259" width="1" height="6" fill="#ff0000"/><rect x="839" y="265" width="1" height="14" fill="#000"/><rect x="838" y="265" width="3" height="8" fill="#000"/><rect x="839" y="266" width="1" height="6" fill="#ff0000"/><rect x="842" y="256" width="1" height="29" fill="#000"/><rect x="841" y="267" width="3" height="6" fill="#000"/><rect x="842" y="268" width="1" height="4" fill="#ffffff"/><rect x="844" y="267" width="1" height="2" fill="#000"/><rect x="843" y="267" width="3" height="1" fill="#000"/><rect x="846" y="259" width="1" height="22" fill="#000"/><rect x="845" y="267" width="3" height="10" fill="#000"/><rect x="846" y="268" width="1" height="8" fill="#ff0000"/><rect x="848" y="268" width="1" height="11" fill="#000"/><rect x="847" y="270" width="3" height="7" fill="#000"/><rect x="848" y="271" width="1" height="5" fill="#ffffff"/><rect x="850" y="256" width="1" height="18" fill="#000"/><rect x="849" y="260" width="3" height="11" fill="#000"/><rect x="850" y="261" width="1" height="9" fill="#ffffff"/><rect x="852" y="256" width="1" height="12" fill="#000"/><rect x="851" y="260" width="3" height="8" fill="#000"/><rect x="852" y="261" width="1" height="6" fill="#ff0000"/><rect x="854" y="260" width="1" height="10" fill="#000"/><rect x="853" y="267" width="3" height="1" fill="#000"/><rect x="856" y="265" width="1" height="25" fill="#000"/><rect x="855" y="267" width="3" height="1" fill="#000"/><rect x="858" y="265" width="1" height="7" fill="#000"/><rect x="857" y="267" width="3" height="2" fill="#000"/><rect x="860" y="266" width="1" height="7" fill="#000"/><rect x="859" y="268" width="3" height="2" fill="#000"/><rect x="862" y="268" width="1" height="20" fill="#000"/><rect x="861" y="269" width="3" height="16" fill="#000"/><rect x="862" y="270" width="1" height="14" fill="#ff0000"/><rect x="864" y="269" width="1" height="18" fill="#000"/><rect x="863" y="272" width="3" height="13" fill="#000"/><rect x="864" y="273" width="1" height="11" fill="#ffffff"/><rect x="866" y="267" width="1" height="8" fill="#000"/><rect x="865" y="271" width="3" height="2" fill="#000"/><rect x="868" y="268" width="1" height="14" fill="#000"/><rect x="867" y="271" width="3" height="8" fill="#000"/><rect x="868" y="272" width="1" height="6" fill="#ff0000"/><rect x="870" y="276" width="1" height="9" fill="#000"/><rect x="869" y="278" width="3" height="2" fill="#000"/><rect x="872" y="261" width="1" height="19" fill="#000"/><rect x="871" y="274" width="3" height="6" fill="#000"/><rect x="872" y="275" width="1" height="4" fill="#ffffff"/><rect x="874" y="271" width="1" height="9" fill="#000"/><rect x="873" y="272" width="3" height="3" fill="#000"/><rect x="874" y="273" width="1" height="1" fill="#ffffff"/><rect x="876" y="283" width="1" height="11" fill="#000"/><rect x="875" y="283" width="3" height="7" fill="#000"/><rect x="876" y="284" width="1" height="5" fill="#ff0000"/><rect x="878" y="285" width="1" height="9" fill="#000"/><rect x="877" y="289" width="3" height="1" fill="#000"/><rect x="880" y="290" width="1" height="24" fill="#000"/><rect x="879" y="290" width="3" height="24" fill="#000"/><rect x="880" y="291" width="1" height="22" fill="#ff0000"/><rect x="882" y="302" width="1" height="27" fill="#000"/><rect x="881" y="305" width="3" height="9" fill="#000"/><rect x="882" y="306" width="1" height="7" fill="#ffffff"/><rect x="884" y="314" width="1" height="7" fill="#000"/><rect x="883" y="314" width="3" height="4" fill="#000"/><rect x="884" y="315" width="1" height="2" fill="#ff0000"/><rect x="886" y="315" width="1" height="12" fill="#000"/><rect x="885" y="317" width="3" height="4" fill="#000"/><rect x="886" y="318" width="1" height="2" fill="#ff0000"/><rect x="888" y="319" width="1" height="14" fill="#000"/><rect x="887" y="320" width="3" height="2" fill="#000"/><rect x="890" y="320" width="1" height="25" fill="#000"/><rect x="889" y="321" width="3" height="23" fill="#000"/><rect x="890" y="322" width="1" height="21" fill="#ff0000"/><rect x="892" y="334" width="1" height="18" fill="#000"/><rect x="891" y="336" width="3" height="8" fill="#000"/><rect x="892" y="337" width="1" height="6" fill="#ffffff"/><rect x="894" y="313" width="1" height="28" fill="#000"/><rect x="893" y="331" width="3" height="6" fill="#000"/><rect x="894" y="332" width="1" height="4" fill="#ffffff"/><rect x="896" y="324" width="1" height="10" fill="#000"/><rect x="895" y="325" width="3" height="7" fill="#000"/><rect x="896" y="326" width="1" height="5" fill="#ffffff"/><rect x="898" y="324" width="1" height="3" fill="#000"/><rect x="897" y="325" width="3" height="2" fill="#000"/><rect x="900" y="324" width="1" height="9" fill="#000"/><rect x="899" y="326" width="3" height="4" fill="#000"/><rect x="900" y="327" width="1" height="2" fill="#ff0000"/><rect x="902" y="322" width="1" height="11" fill="#000"/><rect x="901" y="325" width="3" height="5" fill="#000"/><rect x="902" y="326" width="1" height="3" fill="#ffffff"/><rect x="904" y="325" width="1" height="38" fill="#000"/><rect x="903" y="325" width="3" height="29" fill="#000"/><rect x="904" y="326" width="1" height="27" fill="#ff0000"/><rect x="906" y="350" width="1" height="7" fill="#000"/><rect x="905" y="352" width="3" height="2" fill="#000"/><rect x="908" y="346" width="1" height="17" fill="#000"/><rect x="907" y="352" width="3" height="2" fill="#000"/><rect x="910" y="342" width="1" height="18" fill="#000"/><rect x="909" y="345" width="3" height="9" fill="#000"/><rect x="910" y="346" width="1" height="7" fill="#ffffff"/><rect x="912" y="355" width="1" height="35" fill="#000"/><rect x="911" y="355" width="3" height="13" fill="#000"/><rect x="912" y="356" width="1" height="11" fill="#ff0000"/><rect x="914" y="355" width="1" height="35" fill="#000"/><rect x="913" y="356" width="3" height="33" fill="#000"/><rect x="914" y="357" width="1" height="31" fill="#ff0000"/><rect x="916" y="359" width="1" height="6" fill="#000"/><rect x="915" y="360" width="3" height="5" fill="#000"/><rect x="916" y="361" width="1" height="3" fill="#ffffff"/><rect x="918" y="332" width="1" height="33" fill="#000"/><rect x="917" y="346" width="3" height="15" fill="#000"/><rect x="918" y="347" width="1" height="13" fill="#ffffff"/><rect x="920" y="334" width="1" height="12" fill="#000"/><rect x="919" y="336" width="3" height="10" fill="#000"/><rect x="920" y="337" width="1" height="8" fill="#ffffff"/><rect x="922" y="329" width="1" height="17" fill="#000"/><rect x="921" y="336" width="3" height="3" fill="#000"/><rect x="922" y="337" width="1" height="1" fill="#ff0000"/><rect x="924" y="331" width="1" height="6" fill="#000"/><rect x="923" y="332" width="3" height="5" fill="#000"/><rect x="924" y="333" width="1" height="3" fill="#ffffff"/><rect x="926" y="328" width="1" height="7" fill="#000"/><rect x="925" y="332" width="3" height="1" fill="#000"/><rect x="928" y="314" width="1" height="7" fill="#000"/><rect x="927" y="315" width="3" height="6" fill="#000"/><rect x="928" y="316" width="1" height="4" fill="#ffffff"/><rect x="930" y="305" width="1" height="16" fill="#000"/><rect x="929" y="310" width="3" height="6" fill="#000"/><rect x="930" y="311" width="1" height="4" fill="#ffffff"/><rect x="932" y="307" width="1" height="15" fill="#000"/><rect x="931" y="309" width="3" height="2" fill="#000"/><rect x="934" y="306" width="1" height="14" fill="#000"/><rect x="933" y="309" width="3" height="3" fill="#000"/><rect x="934" y="310" width="1" height="1" fill="#ff0000"/><rect x="936" y="311" width="1" height="9" fill="#000"/><rect x="935" y="311" width="3" height="1" fill="#000"/><rect x="938" y="308" width="1" height="5" fill="#000"/><rect x="937" y="308" width="3" height="4" fill="#000"/><rect x="938" y="309" width="1" height="2" fill="#ffffff"/><rect x="940" y="301" width="1" height="9" fill="#000"/><rect x="939" y="308" width="3" height="1" fill="#000"/><rect x="942" y="290" width="1" height="16" fill="#000"/><rect x="941" y="300" width="3" height="6" fill="#000"/><rect x="942" y="301" width="1" height="4" fill="#ffffff"/><rect x="944" y="293" width="1" height="13" fill="#000"/><rect x="943" y="297" width="3" height="4" fill="#000"/><rect x="944" y="298" width="1" height="2" fill="#ffffff"/><rect x="946" y="287" width="1" height="7" fill="#000"/><rect x="945" y="291" width="3" height="3" fill="#000"/><rect x="946" y="292" width="1" height="1" fill="#ffffff"/><rect x="948" y="284" width="1" height="10" fill="#000"/><rect x="947" y="287" width="3" height="5" fill="#000"/><rect x="948" y="288" width="1" height="3" fill="#ffffff"/><rect x="950" y="284" width="1" height="10" fill="#000"/><rect x="949" y="287" width="3" height="5" fill="#000"/><rect x="950" y="288" width="1" height="3" fill="#ff0000"/><rect x="952" y="290" width="1" height="14" fill="#000"/><rect x="951" y="291" width="3" height="13" fill="#000"/><rect x="952" y="292" width="1" height="11" fill="#ff0000"/><rect x="954" y="290" width="1" height="21" fill="#000"/><rect x="953" y="298" width="3" height="6" fill="#000"/><rect x="954" y="299" width="1" height="4" fill="#ffffff"/><rect x="956" y="237" width="1" height="27" fill="#000"/><rect x="955" y="240" width="3" height="24" fill="#000"/><rect x="956" y="241" width="1" height="22" fill="#ffffff"/><rect x="958" y="229" width="1" height="35" fill="#000"/><rect x="957" y="240" width="3" height="6" fill="#000"/><rect x="958" y="241" width="1" height="4" fill="#ff0000"/><rect x="961" y="222" width="1" height="12" fill="#000"/><rect x="960" y="230" width="3" height="4" fill="#000"/><rect x="961" y="231" width="1" height="2" fill="#ffffff"/><rect x="963" y="222" width="1" height="12" fill="#000"/><rect x="962" y="224" width="3" height="7" fill="#000"/><rect x="963" y="225" width="1" height="5" fill="#ffffff"/><rect x="965" y="223" width="1" height="5" fill="#000"/><rect x="964" y="224" width="3" height="3" fill="#000"/><rect x="965" y="225" width="1" height="1" fill="#ff0000"/><rect x="967" y="225" width="1" height="6" fill="#000"/><rect x="966" y="226" width="3" height="2" fill="#000"/><rect x="969" y="224" width="1" height="10" fill="#000"/><rect x="968" y="227" width="3" height="5" fill="#000"/><rect x="969" y="228" width="1" height="3" fill="#ff0000"/><rect x="971" y="223" width="1" height="9" fill="#000"/><rect x="970" y="226" width="3" height="6" fill="#000"/><rect x="971" y="227" width="1" height="4" fill="#ffffff"/><rect x="973" y="228" width="1" height="25" fill="#000"/><rect x="972" y="228" width="3" height="3" fill="#000"/><rect x="973" y="229" width="1" height="1" fill="#ff0000"/><rect x="975" y="228" width="1" height="11" fill="#000"/><rect x="974" y="230" width="3" height="9" fill="#000"/><rect x="975" y="231" width="1" height="7" fill="#ff0000"/><rect x="977" y="244" width="1" height="9" fill="#000"/><rect x="976" y="244" width="3" height="5" fill="#000"/><rect x="977" y="245" width="1" height="3" fill="#ff0000"/><rect x="979" y="245" width="1" height="22" fill="#000"/><rect x="978" y="248" width="3" height="9" fill="#000"/><rect x="979" y="249" width="1" height="7" fill="#ff0000"/><rect x="981" y="248" width="1" height="10" fill="#000"/><rect x="980" y="250" width="3" height="7" fill="#000"/><rect x="981" y="251" width="1" height="5" fill="#ffffff"/><rect x="983" y="247" width="1" height="17" fill="#000"/><rect x="982" y="250" width="3" height="6" fill="#000"/><rect x="983" y="251" width="1" height="4" fill="#ff0000"/><rect x="985" y="245" width="1" height="15" fill="#000"/><rect x="984" y="255" width="3" height="4" fill="#000"/><rect x="985" y="256" width="1" height="2" fill="#ff0000"/><rect x="987" y="262" width="1" height="21" fill="#000"/><rect x="986" y="262" width="3" height="12" fill="#000"/><rect x="987" y="263" width="1" height="10" fill="#ff0000"/><rect x="989" y="270" width="1" height="8" fill="#000"/><rect x="988" y="273" width="3" height="1" fill="#000"/><rect x="991" y="263" width="1" height="14" fill="#000"/><rect x="990" y="272" width="3" height="2" fill="#000"/><rect x="993" y="264" width="1" height="27" fill="#000"/><rect x="992" y="272" width="3" height="8" fill="#000"/><rect x="993" y="273" width="1" height="6" fill="#ff0000"/><rect x="995" y="275" width="1" height="8" fill="#000"/><rect x="994" y="278" width="3" height="2" fill="#000"/><rect x="997" y="231" width="1" height="49" fill="#000"/><rect x="996" y="259" width="3" height="20" fill="#000"/><rect x="997" y="260" width="1" height="18" fill="#ffffff"/><rect x="999" y="238" width="1" height="7" fill="#000"/><rect x="998" y="241" width="3" height="4" fill="#000"/><rect x="999" y="242" width="1" height="2" fill="#ffffff"/><rect x="1001" y="229" width="1" height="16" fill="#000"/><rect x="1000" y="235" width="3" height="7" fill="#000"/><rect x="1001" y="236" width="1" height="5" fill="#ffffff"/><rect x="1003" y="229" width="1" height="11" fill="#000"/><rect x="1002" y="232" width="3" height="4" fill="#000"/><rect x="1003" y="233" width="1" height="2" fill="#ffffff"/><rect x="1005" y="242" width="1" height="19" fill="#000"/><rect x="1004" y="242" width="3" height="17" fill="#000"/><rect x="1005" y="243" width="1" height="15" fill="#ff0000"/><rect x="1007" y="249" width="1" height="16" fill="#000"/><rect x="1006" y="250" width="3" height="9" fill="#000"/><rect x="1007" y="251" width="1" height="7" fill="#ffffff"/><rect x="1009" y="247" width="1" height="19" fill="#000"/><rect x="1008" y="250" width="3" height="9" fill="#000"/><rect x="1009" y="251" width="1" height="7" fill="#ff0000"/><rect x="1011" y="249" width="1" height="11" fill="#000"/><rect x="1010" y="251" width="3" height="8" fill="#000"/><rect x="1011" y="252" width="1" height="6" fill="#ffffff"/><rect x="1013" y="260" width="1" height="12" fill="#000"/><rect x="1012" y="260" width="3" height="9" fill="#000"/><rect x="1013" y="261" width="1" height="7" fill="#ff0000"/><rect x="1015" y="260" width="1" height="41" fill="#000"/><rect x="1014" y="264" width="3" height="5" fill="#000"/><rect x="1015" y="265" width="1" height="3" fill="#ffffff"/><rect x="1017" y="271" width="1" height="31" fill="#000"/><rect x="1016" y="271" width="3" height="14" fill="#000"/><rect x="1017" y="272" width="1" height="12" fill="#ff0000"/><rect x="1019" y="284" width="1" height="7" fill="#000"/><rect x="1018" y="284" width="3" height="2" fill="#000"/><rect x="1021" y="284" width="1" height="41" fill="#000"/><rect x="1020" y="285" width="3" height="24" fill="#000"/><rect x="1021" y="286" width="1" height="22" fill="#ff0000"/><rect x="1023" y="273" width="1" height="37" fill="#000"/><rect x="1022" y="278" width="3" height="31" fill="#000"/><rect x="1023" y="279" width="1" height="29" fill="#ffffff"/><rect x="1025" y="277" width="1" height="22" fill="#000"/><rect x="1024" y="278" width="3" height="18" fill="#000"/><rect x="1025" y="279" width="1" height="16" fill="#ff0000"/><rect x="1027" y="293" width="1" height="4" fill="#000"/><rect x="1026" y="294" width="3" height="2" fill="#000"/><rect x="1029" y="289" width="1" height="8" fill="#000"/><rect x="1028" y="292" width="3" height="3" fill="#000"/><rect x="1029" y="293" width="1" height="1" fill="#ffffff"/><rect x="1031" y="289" width="1" height="17" fill="#000"/><rect x="1030" y="292" width="3" height="6" fill="#000"/><rect x="1031" y="293" width="1" height="4" fill="#ff0000"/><rect x="1033" y="294" width="1" height="14" fill="#000"/><rect x="1032" y="297" width="3" height="9" fill="#000"/><rect x="1033" y="298" width="1" height="7" fill="#ff0000"/><rect x="1035" y="300" width="1" height="18" fill="#000"/><rect x="1034" y="305" width="3" height="8" fill="#000"/><rect x="1035" y="306" width="1" height="6" fill="#ff0000"/><rect x="1037" y="308" width="1" height="8" fill="#000"/><rect x="1036" y="311" width="3" height="2" fill="#000"/><rect x="1039" y="255" width="1" height="24" fill="#000"/><rect x="1038" y="261" width="3" height="18" fill="#000"/><rect x="1039" y="262" width="1" height="16" fill="#ffffff"/><rect x="1041" y="255" width="1" height="24" fill="#000"/><rect x="1040" y="261" width="3" height="6" fill="#000"/><rect x="1041" y="262" width="1" height="4" fill="#ff0000"/><rect x="1043" y="258" width="1" height="10" fill="#000"/><rect x="1042" y="264" width="3" height="3" fill="#000"/><rect x="1043" y="265" width="1" height="1" fill="#ffffff"/><rect x="1045" y="253" width="1" height="14" fill="#000"/><rect x="1044" y="260" width="3" height="5" fill="#000"/><rect x="1045" y="261" width="1" height="3" fill="#ffffff"/><rect x="1047" y="258" width="1" height="4" fill="#000"/><rect x="1046" y="260" width="3" height="2" fill="#000"/><rect x="1049" y="254" width="1" height="5" fill="#000"/><rect x="1048" y="257" width="3" height="2" fill="#000"/><rect x="1051" y="249" width="1" height="10" fill="#000"/><rect x="1050" y="255" width="3" height="3" fill="#000"/><rect x="1051" y="256" width="1" height="1" fill="#ffffff"/><rect x="1053" y="248" width="1" height="6" fill="#000"/><rect x="1052" y="251" width="3" height="3" fill="#000"/><rect x="1053" y="252" width="1" height="1" fill="#ffffff"/><rect x="1055" y="246" width="1" height="8" fill="#000"/><rect x="1054" y="250" width="3" height="2" fill="#000"/><rect x="1057" y="245" width="1" height="8" fill="#000"/><rect x="1056" y="246" width="3" height="5" fill="#000"/><rect x="1057" y="247" width="1" height="3" fill="#ffffff"/><rect x="1059" y="240" width="1" height="9" fill="#000"/><rect x="1058" y="245" width="3" height="2" fill="#000"/><rect x="1061" y="249" width="1" height="8" fill="#000"/><rect x="1060" y="249" width="3" height="5" fill="#000"/><rect x="1061" y="250" width="1" height="3" fill="#ff0000"/><rect x="1063" y="249" width="1" height="8" fill="#000"/><rect x="1062" y="250" width="3" height="4" fill="#000"/><rect x="1063" y="251" width="1" height="2" fill="#ffffff"/><rect x="1065" y="251" width="1" height="11" fill="#000"/><rect x="1064" y="251" width="3" height="3" fill="#000"/><rect x="1065" y="252" width="1" height="1" fill="#ff0000"/><rect x="1067" y="253" width="1" height="13" fill="#000"/><rect x="1066" y="253" width="3" height="5" fill="#000"/><rect x="1067" y="254" width="1" height="3" fill="#ff0000"/><rect x="1069" y="251" width="1" height="21" fill="#000"/><rect x="1068" y="257" width="3" height="4" fill="#000"/><rect x="1069" y="258" width="1" height="2" fill="#ff0000"/><rect x="1071" y="254" width="1" height="8" fill="#000"/><rect x="1070" y="260" width="3" height="1" fill="#000"/><rect x="1073" y="252" width="1" height="16" fill="#000"/><rect x="1072" y="259" width="3" height="2" fill="#000"/><rect x="1075" y="258" width="1" height="10" fill="#000"/><rect x="1074" y="259" width="3" height="5" fill="#000"/><rect x="1075" y="260" width="1" height="3" fill="#ff0000"/><rect x="1078" y="224" width="1" height="22" fill="#000"/><rect x="1077" y="242" width="3" height="4" fill="#000"/><rect x="1078" y="243" width="1" height="2" fill="#ffffff"/><rect x="1080" y="229" width="1" height="3" fill="#000"/><rect x="1079" y="230" width="3" height="2" fill="#000"/><rect x="1082" y="220" width="1" height="12" fill="#000"/><rect x="1081" y="223" width="3" height="8" fill="#000"/><rect x="1082" y="224" width="1" height="6" fill="#ffffff"/><rect x="1084" y="220" width="1" height="12" fill="#000"/><rect x="1083" y="223" width="3" height="6" fill="#000"/><rect x="1084" y="224" width="1" height="4" fill="#ff0000"/><rect x="1086" y="224" width="1" height="8" fill="#000"/><rect x="1085" y="228" width="3" height="1" fill="#000"/><rect x="1088" y="221" width="1" height="7" fill="#000"/><rect x="1087" y="226" width="3" height="2" fill="#000"/><rect x="1090" y="220" width="1" height="8" fill="#000"/><rect x="1089" y="220" width="3" height="7" fill="#000"/><rect x="1090" y="221" width="1" height="5" fill="#ffffff"/><rect x="1092" y="216" width="1" height="12" fill="#000"/><rect x="1091" y="218" width="3" height="3" fill="#000"/><rect x="1092" y="219" width="1" height="1" fill="#ffffff"/><rect x="1094" y="216" width="1" height="3" fill="#000"/><rect x="1093" y="217" width="3" height="2" fill="#000"/><rect x="1096" y="214" width="1" height="12" fill="#000"/><rect x="1095" y="217" width="3" height="1" fill="#000"/><rect x="1098" y="214" width="1" height="19" fill="#000"/><rect x="1097" y="217" width="3" height="14" fill="#000"/><rect x="1098" y="218" width="1" height="12" fill="#ff0000"/><rect x="1100" y="222" width="1" height="13" fill="#000"/><rect x="1099" y="230" width="3" height="2" fill="#000"/><rect x="1102" y="226" width="1" height="12" fill="#000"/><rect x="1101" y="231" width="3" height="2" fill="#000"/><rect x="1104" y="227" width="1" height="17" fill="#000"/><rect x="1103" y="232" width="3" height="8" fill="#000"/><rect x="1104" y="233" width="1" height="6" fill="#ff0000"/><rect x="1106" y="231" width="1" height="11" fill="#000"/><rect x="1105" y="232" width="3" height="8" fill="#000"/><rect x="1106" y="233" width="1" height="6" fill="#ffffff"/><rect x="1108" y="222" width="1" height="17" fill="#000"/><rect x="1107" y="223" width="3" height="10" fill="#000"/><rect x="1108" y="224" width="1" height="8" fill="#ffffff"/><rect x="1110" y="222" width="1" height="4" fill="#000"/><rect x="1109" y="223" width="3" height="2" fill="#000"/><rect x="1112" y="304" width="1" height="38" fill="#000"/><rect x="1111" y="304" width="3" height="23" fill="#000"/><rect x="1112" y="305" width="1" height="21" fill="#ff0000"/><rect x="1114" y="320" width="1" height="15" fill="#000"/><rect x="1113" y="322" width="3" height="4" fill="#000"/><rect x="1114" y="323" width="1" height="2" fill="#ff0000"/><rect x="1116" y="321" width="1" height="5" fill="#000"/><rect x="1115" y="325" width="3" height="1" fill="#000"/><rect x="1118" y="331" width="1" height="24" fill="#000"/><rect x="1117" y="331" width="3" height="18" fill="#000"/><rect x="1118" y="332" width="1" height="16" fill="#ff0000"/><rect x="1120" y="341" width="1" height="13" fill="#000"/><rect x="1119" y="342" width="3" height="7" fill="#000"/><rect x="1120" y="343" width="1" height="5" fill="#ffffff"/><rect x="1122" y="340" width="1" height="12" fill="#000"/><rect x="1121" y="342" width="3" height="4" fill="#000"/><rect x="1122" y="343" width="1" height="2" fill="#ff0000"/><rect x="1124" y="344" width="1" height="15" fill="#000"/><rect x="1123" y="345" width="3" height="9" fill="#000"/><rect x="1124" y="346" width="1" height="7" fill="#ff0000"/><rect x="1126" y="347" width="1" height="16" fill="#000"/><rect x="1125" y="353" width="3" height="2" fill="#000"/><rect x="1128" y="347" width="1" height="9" fill="#000"/><rect x="1127" y="350" width="3" height="5" fill="#000"/><rect x="1128" y="351" width="1" height="3" fill="#ffffff"/><rect x="1130" y="338" width="1" height="15" fill="#000"/><rect x="1129" y="342" width="3" height="9" fill="#000"/><rect x="1130" y="343" width="1" height="7" fill="#ffffff"/><rect x="1132" y="328" width="1" height="17" fill="#000"/><rect x="1131" y="341" width="3" height="2" fill="#000"/><rect x="1134" y="343" width="1" height="23" fill="#000"/><rect x="1133" y="343" width="3" height="5" fill="#000"/><rect x="1134" y="344" width="1" height="3" fill="#ff0000"/><rect x="1136" y="365" width="1" height="16" fill="#000"/><rect x="1135" y="365" width="3" height="6" fill="#000"/><rect x="1136" y="366" width="1" height="4" fill="#ff0000"/><rect x="1138" y="368" width="1" height="7" fill="#000"/><rect x="1137" y="370" width="3" height="3" fill="#000"/><rect x="1138" y="371" width="1" height="1" fill="#ff0000"/><rect x="1140" y="363" width="1" height="7" fill="#000"/><rect x="1139" y="366" width="3" height="4" fill="#000"/><rect x="1140" y="367" width="1" height="2" fill="#ffffff"/><rect x="1142" y="359" width="1" height="11" fill="#000"/><rect x="1141" y="363" width="3" height="4" fill="#000"/><rect x="1142" y="364" width="1" height="2" fill="#ffffff"/><rect x="1144" y="355" width="1" height="5" fill="#000"/><rect x="1143" y="357" width="3" height="3" fill="#000"/><rect x="1144" y="358" width="1" height="1" fill="#ffffff"/><rect x="1146" y="351" width="1" height="9" fill="#000"/><rect x="1145" y="352" width="3" height="6" fill="#000"/><rect x="1146" y="353" width="1" height="4" fill="#ffffff"/><rect x="1148" y="338" width="1" height="18" fill="#000"/><rect x="1147" y="341" width="3" height="12" fill="#000"/><rect x="1148" y="342" width="1" height="10" fill="#ffffff"/><rect x="1150" y="338" width="1" height="12" fill="#000"/><rect x="1149" y="341" width="3" height="5" fill="#000"/><rect x="1150" y="342" width="1" height="3" fill="#ff0000"/><rect x="1152" y="351" width="1" height="30" fill="#000"/><rect x="1151" y="351" width="3" height="22" fill="#000"/><rect x="1152" y="352" width="1" height="20" fill="#ff0000"/><rect x="1154" y="351" width="1" height="23" fill="#000"/><rect x="1153" y="363" width="3" height="10" fill="#000"/><rect x="1154" y="364" width="1" height="8" fill="#ffffff"/><rect x="1156" y="370" width="1" height="7" fill="#000"/><rect x="1155" y="370" width="3" height="4" fill="#000"/><rect x="1156" y="371" width="1" height="2" fill="#ff0000"/><rect x="1158" y="371" width="1" height="15" fill="#000"/><rect x="1157" y="373" width="3" height="5" fill="#000"/><rect x="1158" y="374" width="1" height="3" fill="#ff0000"/><rect x="1160" y="377" width="1" height="18" fill="#000"/><rect x="1159" y="377" width="3" height="9" fill="#000"/><rect x="1160" y="378" width="1" height="7" fill="#ff0000"/><rect x="1162" y="377" width="1" height="12" fill="#000"/><rect x="1161" y="385" width="3" height="1" fill="#000"/><rect x="1164" y="385" width="1" height="12" fill="#000"/><rect x="1163" y="385" width="3" height="4" fill="#000"/><rect x="1164" y="386" width="1" height="2" fill="#ff0000"/><rect x="1166" y="385" width="1" height="14" fill="#000"/><rect x="1165" y="388" width="3" height="1" fill="#000"/><rect x="1168" y="375" width="1" height="24" fill="#000"/><rect x="1167" y="381" width="3" height="8" fill="#000"/><rect x="1168" y="382" width="1" height="6" fill="#ffffff"/><rect x="1170" y="379" width="1" height="13" fill="#000"/><rect x="1169" y="381" width="3" height="8" fill="#000"/><rect x="1170" y="382" width="1" height="6" fill="#ff0000"/><rect x="1172" y="386" width="1" height="81" fill="#000"/><rect x="1171" y="386" width="3" height="78" fill="#000"/><rect x="1172" y="387" width="1" height="76" fill="#ff0000"/><rect x="1174" y="448" width="1" height="8" fill="#000"/><rect x="1173" y="448" width="3" height="2" fill="#000"/><rect x="1176" y="448" width="1" height="7" fill="#000"/><rect x="1175" y="449" width="3" height="4" fill="#000"/><rect x="1176" y="450" width="1" height="2" fill="#ff0000"/><rect x="1178" y="448" width="1" height="21" fill="#000"/><rect x="1177" y="452" width="3" height="5" fill="#000"/><rect x="1178" y="453" width="1" height="3" fill="#ff0000"/><rect x="1180" y="455" width="1" height="3" fill="#000"/><rect x="1179" y="456" width="3" height="1" fill="#000"/><rect x="1182" y="445" width="1" height="13" fill="#000"/><rect x="1181" y="451" width="3" height="6" fill="#000"/><rect x="1182" y="452" width="1" height="4" fill="#ffffff"/><rect x="1184" y="448" width="1" height="9" fill="#000"/><rect x="1183" y="451" width="3" height="2" fill="#000"/><rect x="1186" y="436" width="1" height="12" fill="#000"/><rect x="1185" y="437" width="3" height="11" fill="#000"/><rect x="1186" y="438" width="1" height="9" fill="#ffffff"/><rect x="1188" y="415" width="1" height="33" fill="#000"/><rect x="1187" y="437" width="3" height="4" fill="#000"/><rect x="1188" y="438" width="1" height="2" fill="#ff0000"/><rect x="1190" y="400" width="1" height="31" fill="#000"/><rect x="1189" y="424" width="3" height="7" fill="#000"/><rect x="1190" y="425" width="1" height="5" fill="#ffffff"/><rect x="1192" y="417" width="1" height="14" fill="#000"/><rect x="1191" y="422" width="3" height="3" fill="#000"/><rect x="1192" y="423" width="1" height="1" fill="#ffffff"/><rect x="1194" y="418" width="1" height="7" fill="#000"/><rect x="1193" y="422" width="3" height="2" fill="#000"/><rect x="1197" y="402" width="1" height="23" fill="#000"/><rect x="1196" y="411" width="3" height="13" fill="#000"/><rect x="1197" y="412" width="1" height="11" fill="#ffffff"/><rect x="1199" y="408" width="1" height="10" fill="#000"/><rect x="1198" y="411" width="3" height="5" fill="#000"/><rect x="1199" y="412" width="1" height="3" fill="#ff0000"/><rect x="1201" y="417" width="1" height="16" fill="#000"/><rect x="1200" y="417" width="3" height="9" fill="#000"/><rect x="1201" y="418" width="1" height="7" fill="#ff0000"/><rect x="1203" y="419" width="1" height="4" fill="#000"/><rect x="1202" y="420" width="3" height="3" fill="#000"/><rect x="1203" y="421" width="1" height="1" fill="#ffffff"/><rect x="1205" y="392" width="1" height="31" fill="#000"/><rect x="1204" y="408" width="3" height="13" fill="#000"/><rect x="1205" y="409" width="1" height="11" fill="#ffffff"/><rect x="1207" y="402" width="1" height="19" fill="#000"/><rect x="1206" y="408" width="3" height="8" fill="#000"/><rect x="1207" y="409" width="1" height="6" fill="#ff0000"/><rect x="1209" y="421" width="1" height="30" fill="#000"/><rect x="1208" y="421" width="3" height="16" fill="#000"/><rect x="1209" y="422" width="1" height="14" fill="#ff0000"/><rect x="1211" y="447" width="1" height="11" fill="#000"/><rect x="1210" y="447" width="3" height="3" fill="#000"/><rect x="1211" y="448" width="1" height="1" fill="#ff0000"/><rect x="1213" y="440" width="1" height="27" fill="#000"/><rect x="1212" y="442" width="3" height="8" fill="#000"/><rect x="1213" y="443" width="1" height="6" fill="#ffffff"/><rect x="1215" y="430" width="1" height="16" fill="#000"/><rect x="1214" y="442" width="3" height="1" fill="#000"/><rect x="1217" y="438" width="1" height="26" fill="#000"/><rect x="1216" y="442" width="3" height="4" fill="#000"/><rect x="1217" y="443" width="1" height="2" fill="#ff0000"/><rect x="1219" y="440" width="1" height="9" fill="#000"/><rect x="1218" y="444" width="3" height="2" fill="#000"/><rect x="1221" y="441" width="1" height="7" fill="#000"/><rect x="1220" y="444" width="3" height="3" fill="#000"/><rect x="1221" y="445" width="1" height="1" fill="#ff0000"/><rect x="1223" y="444" width="1" height="8" fill="#000"/><rect x="1222" y="444" width="3" height="3" fill="#000"/><rect x="1223" y="445" width="1" height="1" fill="#ffffff"/><rect x="1225" y="436" width="1" height="9" fill="#000"/><rect x="1224" y="437" width="3" height="8" fill="#000"/><rect x="1225" y="438" width="1" height="6" fill="#ffffff"/><rect x="1227" y="426" width="1" height="19" fill="#000"/><rect x="1226" y="437" width="3" height="1" fill="#000"/><rect x="1229" y="442" width="1" height="16" fill="#000"/><rect x="1228" y="442" width="3" height="4" fill="#000"/><rect x="1229" y="443" width="1" height="2" fill="#ff0000"/><rect x="1231" y="441" width="1" height="8" fill="#000"/><rect x="1230" y="444" width="3" height="2" fill="#000"/><rect x="1233" y="443" width="1" height="21" fill="#000"/><rect x="1232" y="444" width="3" height="7" fill="#000"/><rect x="1233" y="445" width="1" height="5" fill="#ff0000"/><rect x="1235" y="441" width="1" height="12" fill="#000"/><rect x="1234" y="446" width="3" height="5" fill="#000"/><rect x="1235" y="447" width="1" height="3" fill="#ffffff"/><rect x="1237" y="403" width="1" height="39" fill="#000"/><rect x="1236" y="415" width="3" height="27" fill="#000"/><rect x="1237" y="416" width="1" height="25" fill="#ffffff"/><rect x="1239" y="413" width="1" height="29" fill="#000"/><rect x="1238" y="415" width="3" height="8" fill="#000"/><rect x="1239" y="416" width="1" height="6" fill="#ff0000"/><rect x="1241" y="400" width="1" height="17" fill="#000"/><rect x="1240" y="410" width="3" height="7" fill="#000"/><rect x="1241" y="411" width="1" height="5" fill="#ffffff"/><rect x="1243" y="405" width="1" height="12" fill="#000"/><rect x="1242" y="407" width="3" height="4" fill="#000"/><rect x="1243" y="408" width="1" height="2" fill="#ffffff"/><rect x="1245" y="400" width="1" height="11" fill="#000"/><rect x="1244" y="403" width="3" height="5" fill="#000"/><rect x="1245" y="404" width="1" height="3" fill="#ffffff"/><rect x="1247" y="400" width="1" height="11" fill="#000"/><rect x="1246" y="403" width="3" height="3" fill="#000"/><rect x="1247" y="404" width="1" height="1" fill="#ff0000"/><rect x="1249" y="406" width="1" height="15" fill="#000"/><rect x="1248" y="406" width="3" height="12" fill="#000"/><rect x="1249" y="407" width="1" height="10" fill="#ff0000"/><rect x="1251" y="406" width="1" height="22" fill="#000"/><rect x="1250" y="416" width="3" height="2" fill="#000"/><rect x="1253" y="393" width="1" height="9" fill="#000"/><rect x="1252" y="396" width="3" height="6" fill="#000"/><rect x="1253" y="397" width="1" height="4" fill="#ffffff"/><rect x="1255" y="382" width="1" height="20" fill="#000"/><rect x="1254" y="390" width="3" height="7" fill="#000"/><rect x="1255" y="391" width="1" height="5" fill="#ffffff"/><rect x="1257" y="392" width="1" height="16" fill="#000"/><rect x="1256" y="392" width="3" height="6" fill="#000"/><rect x="1257" y="393" width="1" height="4" fill="#ff0000"/><rect x="1259" y="392" width="1" height="16" fill="#000"/><rect x="1258" y="397" width="3" height="4" fill="#000"/><rect x="1259" y="398" width="1" height="2" fill="#ff0000"/><rect x="1261" y="396" width="1" height="12" fill="#000"/><rect x="1260" y="400" width="3" height="3" fill="#000"/><rect x="1261" y="401" width="1" height="1" fill="#ff0000"/><rect x="1263" y="398" width="1" height="8" fill="#000"/><rect x="1262" y="400" width="3" height="3" fill="#000"/><rect x="1263" y="401" width="1" height="1" fill="#ffffff"/><rect x="1265" y="392" width="1" height="16" fill="#000"/><rect x="1264" y="398" width="3" height="3" fill="#000"/><rect x="1265" y="399" width="1" height="1" fill="#ffffff"/><rect x="1267" y="397" width="1" height="33" fill="#000"/><rect x="1266" y="398" width="3" height="4" fill="#000"/><rect x="1267" y="399" width="1" height="2" fill="#ff0000"/><rect x="1269" y="415" width="1" height="25" fill="#000"/><rect x="1268" y="415" width="3" height="18" fill="#000"/><rect x="1269" y="416" width="1" height="16" fill="#ff0000"/><rect x="1271" y="427" width="1" height="13" fill="#000"/><rect x="1270" y="428" width="3" height="5" fill="#000"/><rect x="1271" y="429" width="1" height="3" fill="#ffffff"/><rect x="1273" y="454" width="1" height="25" fill="#000"/><rect x="1272" y="454" width="3" height="12" fill="#000"/><rect x="1273" y="455" width="1" height="10" fill="#ff0000"/><rect x="1275" y="472" width="1" height="14" fill="#000"/><rect x="1274" y="472" width="3" height="9" fill="#000"/><rect x="1275" y="473" width="1" height="7" fill="#ff0000"/><rect x="1277" y="475" width="1" height="19" fill="#000"/><rect x="1276" y="480" width="3" height="2" fill="#000"/><rect x="1279" y="478" width="1" height="8" fill="#000"/><rect x="1278" y="481" width="3" height="2" fill="#000"/><rect x="1281" y="482" width="1" height="19" fill="#000"/><rect x="1280" y="482" width="3" height="13" fill="#000"/><rect x="1281" y="483" width="1" height="11" fill="#ff0000"/><rect x="1283" y="490" width="1" height="15" fill="#000"/><rect x="1282" y="494" width="3" height="3" fill="#000"/><rect x="1283" y="495" width="1" height="1" fill="#ff0000"/><rect x="1285" y="494" width="1" height="5" fill="#000"/><rect x="1284" y="495" width="3" height="2" fill="#000"/><rect x="1287" y="471" width="1" height="25" fill="#000"/><rect x="1286" y="488" width="3" height="8" fill="#000"/><rect x="1287" y="489" width="1" height="6" fill="#ffffff"/><rect x="1289" y="467" width="1" height="32" fill="#000"/><rect x="1288" y="470" width="3" height="19" fill="#000"/><rect x="1289" y="471" width="1" height="17" fill="#ffffff"/><rect x="1291" y="459" width="1" height="18" fill="#000"/><rect x="1290" y="470" width="3" height="6" fill="#000"/><rect x="1291" y="471" width="1" height="4" fill="#ff0000"/><rect x="1293" y="468" width="1" height="20" fill="#000"/><rect x="1292" y="475" width="3" height="5" fill="#000"/><rect x="1293" y="476" width="1" height="3" fill="#ff0000"/><rect x="1295" y="475" width="1" height="8" fill="#000"/><rect x="1294" y="477" width="3" height="3" fill="#000"/><rect x="1295" y="478" width="1" height="1" fill="#ffffff"/><rect x="1297" y="484" width="1" height="6" fill="#000"/><rect x="1296" y="484" width="3" height="3" fill="#000"/><rect x="1297" y="485" width="1" height="1" fill="#ff0000"/><rect x="1299" y="484" width="1" height="29" fill="#000"/><rect x="1298" y="486" width="3" height="12" fill="#000"/><rect x="1299" y="487" width="1" height="10" fill="#ff0000"/><rect x="1301" y="489" width="1" height="17" fill="#000"/><rect x="1300" y="494" width="3" height="4" fill="#000"/><rect x="1301" y="495" width="1" height="2" fill="#ffffff"/><rect x="1303" y="499" width="1" height="12" fill="#000"/><rect x="1302" y="499" width="3" height="5" fill="#000"/><rect x="1303" y="500" width="1" height="3" fill="#ff0000"/><rect x="1305" y="514" width="1" height="39" fill="#000"/><rect x="1304" y="514" width="3" height="7" fill="#000"/><rect x="1305" y="515" width="1" height="5" fill="#ff0000"/><rect x="1307" y="529" width="1" height="4" fill="#000"/><rect x="1306" y="529" width="3" height="3" fill="#000"/><rect x="1307" y="530" width="1" height="1" fill="#ff0000"/><rect x="1309" y="529" width="1" height="10" fill="#000"/><rect x="1308" y="531" width="3" height="6" fill="#000"/><rect x="1309" y="532" width="1" height="4" fill="#ff0000"/><rect x="1311" y="535" width="1" height="12" fill="#000"/><rect x="1310" y="536" width="3" height="4" fill="#000"/><rect x="1311" y="537" width="1" height="2" fill="#ff0000"/><rect x="1313" y="504" width="1" height="40" fill="#000"/><rect x="1312" y="527" width="3" height="13" fill="#000"/><rect x="1313" y="528" width="1" height="11" fill="#ffffff"/><rect x="1316" y="526" width="1" height="9" fill="#000"/><rect x="1315" y="527" width="3" height="7" fill="#000"/><rect x="1316" y="528" width="1" height="5" fill="#ff0000"/><rect x="1318" y="529" width="1" height="4" fill="#000"/><rect x="1317" y="530" width="3" height="3" fill="#000"/><rect x="1318" y="531" width="1" height="1" fill="#ffffff"/><rect x="1320" y="521" width="1" height="11" fill="#000"/><rect x="1319" y="524" width="3" height="7" fill="#000"/><rect x="1320" y="525" width="1" height="5" fill="#ffffff"/><rect x="1322" y="518" width="1" height="15" fill="#000"/><rect x="1321" y="521" width="3" height="4" fill="#000"/><rect x="1322" y="522" width="1" height="2" fill="#ffffff"/><rect x="1324" y="534" width="1" height="3" fill="#000"/><rect x="1323" y="534" width="3" height="3" fill="#000"/><rect x="1324" y="535" width="1" height="1" fill="#ff0000"/><rect x="1326" y="536" width="1" height="14" fill="#000"/><rect x="1325" y="536" width="3" height="7" fill="#000"/><rect x="1326" y="537" width="1" height="5" fill="#ff0000"/><rect x="1328" y="541" width="1" height="5" fill="#000"/><rect x="1327" y="541" width="3" height="2" fill="#000"/><rect x="1330" y="525" width="1" height="14" fill="#000"/><rect x="1329" y="535" width="3" height="4" fill="#000"/><rect x="1330" y="536" width="1" height="2" fill="#ffffff"/><rect x="1332" y="531" width="1" height="8" fill="#000"/><rect x="1331" y="532" width="3" height="4" fill="#000"/><rect x="1332" y="533" width="1" height="2" fill="#ffffff"/><rect x="1334" y="502" width="1" height="6" fill="#000"/><rect x="1333" y="503" width="3" height="5" fill="#000"/><rect x="1334" y="504" width="1" height="3" fill="#ffffff"/><rect x="1336" y="481" width="1" height="23" fill="#000"/><rect x="1335" y="503" width="3" height="1" fill="#000"/><rect x="1338" y="488" width="1" height="11" fill="#000"/><rect x="1337" y="492" width="3" height="7" fill="#000"/><rect x="1338" y="493" width="1" height="5" fill="#ffffff"/><rect x="1340" y="491" width="1" height="8" fill="#000"/><rect x="1339" y="492" width="3" height="1" fill="#000"/><rect x="1342" y="485" width="1" height="8" fill="#000"/><rect x="1341" y="491" width="3" height="2" fill="#000"/><rect x="1344" y="482" width="1" height="11" fill="#000"/><rect x="1343" y="484" width="3" height="8" fill="#000"/><rect x="1344" y="485" width="1" height="6" fill="#ffffff"/><rect x="1346" y="482" width="1" height="11" fill="#000"/><rect x="1345" y="484" width="3" height="5" fill="#000"/><rect x="1346" y="485" width="1" height="3" fill="#ff0000"/><rect x="1348" y="489" width="1" height="23" fill="#000"/><rect x="1347" y="489" width="3" height="15" fill="#000"/><rect x="1348" y="490" width="1" height="13" fill="#ff0000"/><rect x="1350" y="489" width="1" height="15" fill="#000"/><rect x="1349" y="498" width="3" height="6" fill="#000"/><rect x="1350" y="499" width="1" height="4" fill="#ffffff"/><rect x="1352" y="500" width="1" height="12" fill="#000"/><rect x="1351" y="500" width="3" height="4" fill="#000"/><rect x="1352" y="501" width="1" height="2" fill="#ff0000"/><rect x="1354" y="562" width="1" height="15" fill="#000"/><rect x="1353" y="562" width="3" height="9" fill="#000"/><rect x="1354" y="563" width="1" height="7" fill="#ff0000"/><rect x="1356" y="562" width="1" height="17" fill="#000"/><rect x="1355" y="565" width="3" height="6" fill="#000"/><rect x="1356" y="566" width="1" height="4" fill="#ffffff"/><rect x="1358" y="569" width="1" height="18" fill="#000"/><rect x="1357" y="569" width="3" height="4" fill="#000"/><rect x="1358" y="570" width="1" height="2" fill="#ff0000"/><rect x="1360" y="569" width="1" height="10" fill="#000"/><rect x="1359" y="572" width="3" height="2" fill="#000"/><rect x="1362" y="566" width="1" height="8" fill="#000"/><rect x="1361" y="569" width="3" height="5" fill="#000"/><rect x="1362" y="570" width="1" height="3" fill="#ffffff"/><rect x="1364" y="569" width="1" height="7" fill="#000"/><rect x="1363" y="569" width="3" height="1" fill="#000"/><rect x="1366" y="545" width="1" height="24" fill="#000"/><rect x="1365" y="557" width="3" height="12" fill="#000"/><rect x="1366" y="558" width="1" height="10" fill="#ffffff"/><rect x="1368" y="554" width="1" height="15" fill="#000"/><rect x="1367" y="557" width="3" height="9" fill="#000"/><rect x="1368" y="558" width="1" height="7" fill="#ff0000"/><rect x="1370" y="560" width="1" height="27" fill="#000"/><rect x="1369" y="565" width="3" height="2" fill="#000"/><rect x="1372" y="565" width="1" height="7" fill="#000"/><rect x="1371" y="566" width="3" height="3" fill="#000"/><rect x="1372" y="567" width="1" height="1" fill="#ff0000"/><rect x="1374" y="547" width="1" height="40" fill="#000"/><rect x="1373" y="568" width="3" height="4" fill="#000"/><rect x="1374" y="569" width="1" height="2" fill="#ff0000"/><rect x="1376" y="566" width="1" height="10" fill="#000"/><rect x="1375" y="569" width="3" height="3" fill="#000"/><rect x="1376" y="570" width="1" height="1" fill="#ffffff"/><rect x="1378" y="555" width="1" height="24" fill="#000"/><rect x="1377" y="567" width="3" height="3" fill="#000"/><rect x="1378" y="568" width="1" height="1" fill="#ffffff"/><rect x="1380" y="549" width="1" height="20" fill="#000"/><rect x="1379" y="564" width="3" height="4" fill="#000"/><rect x="1380" y="565" width="1" height="2" fill="#ffffff"/><rect x="1382" y="562" width="1" height="7" fill="#000"/><rect x="1381" y="564" width="3" height="1" fill="#000"/><rect x="1384" y="545" width="1" height="21" fill="#000"/><rect x="1383" y="561" width="3" height="4" fill="#000"/><rect x="1384" y="562" width="1" height="2" fill="#ffffff"/><rect x="1386" y="504" width="1" height="46" fill="#000"/><rect x="1385" y="528" width="3" height="22" fill="#000"/><rect x="1386" y="529" width="1" height="20" fill="#ffffff"/><rect x="1388" y="524" width="1" height="37" fill="#000"/><rect x="1387" y="528" width="3" height="15" fill="#000"/><rect x="1388" y="529" width="1" height="13" fill="#ff0000"/><rect x="1390" y="523" width="1" height="23" fill="#000"/><rect x="1389" y="526" width="3" height="17" fill="#000"/><rect x="1390" y="527" width="1" height="15" fill="#ffffff"/><rect x="1392" y="517" width="1" height="16" fill="#000"/><rect x="1391" y="526" width="3" height="2" fill="#000"/></g><polyline points="66.0,432.0 707.5,70.2 1363.0,591.5" fill="none" stroke="#006400" stroke-width="5.5" stroke-linejoin="round" stroke-linecap="round"/><polyline points="66.0,424.0 376.7,165.6 498.0,280.0 709.0,75.0" fill="none" stroke="#6495ed" stroke-width="3" stroke-linejoin="round" stroke-linecap="round"/><path d="M66.00,432.70 C69.68,431.53 79.72,428.28 88.10,425.70 C96.48,423.12 106.92,420.02 116.30,417.20 C125.68,414.38 136.90,411.52 144.40,408.80 C151.90,406.08 155.68,405.12 161.30,400.90 C166.92,396.68 172.48,390.63 178.10,383.50 C183.72,376.37 189.37,365.13 195.00,358.10 C200.63,351.07 205.33,347.38 211.90,341.30 C218.47,335.22 226.90,327.23 234.40,321.60 C241.90,315.97 248.47,312.67 256.90,307.50 C265.33,302.33 275.62,297.17 285.00,290.60 C294.38,284.03 303.82,274.42 313.20,268.10 C322.58,261.78 331.93,257.15 341.30,252.70 C350.67,248.25 362.83,243.60 369.40,241.40 C375.97,239.20 375.60,241.23 380.70,239.50 C385.80,237.77 393.45,233.08 400.00,231.00 C406.55,228.92 413.33,228.08 420.00,227.00 C426.67,225.92 432.63,225.32 440.00,224.50 C447.37,223.68 456.13,221.88 464.20,222.10 C472.27,222.32 480.33,224.38 488.40,225.80 C496.47,227.22 504.55,230.60 512.60,230.60 C520.65,230.60 528.65,228.62 536.70,225.80 C544.75,222.98 552.83,217.33 560.90,213.70 C568.97,210.07 577.03,207.03 585.10,204.00 C593.17,200.97 601.23,197.52 609.30,195.50 C617.37,193.48 625.43,194.12 633.50,191.90 C641.57,189.68 649.65,186.63 657.70,182.20 C665.75,177.77 673.75,170.33 681.80,165.30 C689.85,160.27 697.93,156.03 706.00,152.00 C714.07,147.97 722.87,143.43 730.20,141.10 C737.53,138.77 743.87,138.77 750.00,138.00 C756.13,137.23 762.83,135.83 767.00,136.50 C771.17,137.17 772.00,139.58 775.00,142.00 C778.00,144.42 782.00,148.42 785.00,151.00 C788.00,153.58 790.50,156.00 793.00,157.50 C795.50,159.00 796.33,158.67 800.00,160.00 C803.67,161.33 810.00,163.42 815.00,165.50 C820.00,167.58 825.72,169.62 830.00,172.50 C834.28,175.38 836.88,179.70 840.70,182.80 C844.52,185.90 848.33,187.93 852.90,191.10 C857.47,194.27 863.53,198.48 868.10,201.80 C872.67,205.12 876.48,207.95 880.30,211.00 C884.12,214.05 887.20,216.55 891.00,220.10 C894.80,223.65 899.55,228.48 903.10,232.30 C906.65,236.12 908.73,239.45 912.30,243.00 C915.87,246.55 920.43,250.82 924.50,253.60 C928.57,256.38 932.63,258.05 936.70,259.70 C940.77,261.35 945.60,262.62 948.90,263.50 C952.20,264.38 953.97,265.12 956.50,265.00 C959.03,264.88 961.05,263.68 964.10,262.80 C967.15,261.92 970.48,260.12 974.80,259.70 C979.12,259.28 985.92,260.10 990.00,260.30 C994.08,260.50 994.95,260.80 999.30,260.90 C1003.65,261.00 1011.80,260.37 1016.10,260.90 C1020.40,261.43 1021.88,262.92 1025.10,264.10 C1028.32,265.28 1032.17,267.35 1035.40,268.00 C1038.63,268.65 1040.83,268.32 1044.50,268.00 C1048.17,267.68 1053.10,266.63 1057.40,266.10 C1061.70,265.57 1067.08,265.07 1070.30,264.80 C1073.52,264.53 1074.57,264.93 1076.70,264.50 C1078.83,264.07 1079.88,263.33 1083.10,262.20 C1086.32,261.07 1092.12,258.88 1096.00,257.70 C1099.88,256.52 1103.60,255.42 1106.40,255.10 C1109.20,254.78 1110.67,254.62 1112.80,255.80 C1114.93,256.98 1116.40,259.95 1119.20,262.20 C1122.00,264.45 1124.67,265.97 1129.60,269.30 C1134.53,272.63 1142.48,277.55 1148.80,282.20 C1155.12,286.85 1161.88,291.73 1167.50,297.20 C1173.12,302.67 1177.80,310.15 1182.50,315.00 C1187.20,319.85 1191.00,322.23 1195.70,326.30 C1200.40,330.37 1206.02,335.33 1210.70,339.40 C1215.38,343.47 1219.43,347.27 1223.80,350.70 C1228.17,354.13 1232.22,357.25 1236.90,360.00 C1241.58,362.75 1246.58,365.32 1251.90,367.20 C1257.22,369.08 1264.10,368.90 1268.80,371.30 C1273.50,373.70 1275.77,377.75 1280.10,381.60 C1284.43,385.45 1289.55,389.47 1294.80,394.40 C1300.05,399.33 1305.63,405.23 1311.60,411.20 C1317.57,417.17 1325.32,425.98 1330.60,430.20 C1335.88,434.42 1339.43,434.38 1343.30,436.50 C1347.17,438.62 1348.18,437.80 1353.80,442.90 C1359.42,448.00 1370.67,461.48 1377.00,467.10 C1383.33,472.72 1389.33,475.02 1391.80,476.60" fill="none" stroke="#808000" stroke-width="1" shape-rendering="crispEdges"/><path d="M66.00,457.20 C70.63,457.47 84.48,458.57 93.80,458.80 C103.12,459.03 111.12,459.67 121.90,458.60 C132.68,457.53 147.72,455.78 158.50,452.40 C169.28,449.02 177.23,444.17 186.60,438.30 C195.97,432.43 205.33,423.30 214.70,417.20 C224.07,411.10 233.42,407.57 242.80,401.70 C252.18,395.83 261.62,388.32 271.00,382.00 C280.38,375.68 289.73,370.35 299.10,363.80 C308.47,357.25 317.82,349.27 327.20,342.70 C336.58,336.13 346.02,329.80 355.40,324.40 C364.78,319.00 374.13,315.47 383.50,310.30 C392.87,305.13 402.18,297.78 411.60,293.40 C421.02,289.02 427.20,288.42 440.00,284.00 C452.80,279.58 472.28,273.38 488.40,266.90 C504.52,260.42 523.43,251.33 536.70,245.10 C549.97,238.87 559.12,233.85 568.00,229.50 C576.88,225.15 579.08,223.05 590.00,219.00 C600.92,214.95 618.20,208.92 633.50,205.20 C648.80,201.48 665.68,200.53 681.80,196.70 C697.92,192.87 717.17,185.88 730.20,182.20 C743.23,178.52 754.20,176.13 760.00,174.60 C765.80,173.07 762.50,173.00 765.00,173.00 C767.50,173.00 770.83,174.10 775.00,174.60 C779.17,175.10 785.83,175.88 790.00,176.00 C794.17,176.12 793.33,175.27 800.00,175.30 C806.67,175.33 822.47,175.47 830.00,176.20 C837.53,176.93 840.12,178.73 845.20,179.70 C850.28,180.67 855.42,181.48 860.50,182.00 C865.58,182.52 870.62,181.78 875.70,182.80 C880.78,183.82 885.92,186.45 891.00,188.10 C896.08,189.75 901.13,191.30 906.20,192.70 C911.27,194.10 916.32,195.43 921.40,196.50 C926.48,197.57 931.62,198.35 936.70,199.10 C941.78,199.85 946.83,200.60 951.90,201.00 C956.97,201.40 962.42,201.30 967.10,201.50 C971.78,201.70 975.70,201.75 980.00,202.20 C984.30,202.65 988.60,203.33 992.90,204.20 C997.20,205.07 1001.50,206.33 1005.80,207.40 C1010.10,208.47 1014.40,209.32 1018.70,210.60 C1023.00,211.88 1027.30,213.70 1031.60,215.10 C1035.90,216.50 1040.20,217.92 1044.50,219.00 C1048.80,220.08 1053.10,220.85 1057.40,221.60 C1061.70,222.35 1066.02,223.07 1070.30,223.50 C1074.58,223.93 1078.82,223.77 1083.10,224.20 C1087.38,224.63 1091.70,225.13 1096.00,226.10 C1100.30,227.07 1104.60,228.28 1108.90,230.00 C1113.20,231.72 1118.28,234.58 1121.80,236.40 C1125.32,238.22 1125.50,238.42 1130.00,240.90 C1134.50,243.38 1142.55,247.55 1148.80,251.30 C1155.05,255.05 1161.25,259.03 1167.50,263.40 C1173.75,267.77 1180.05,273.27 1186.30,277.50 C1192.55,281.73 1200.32,285.83 1205.00,288.80 C1209.68,291.77 1209.70,292.80 1214.40,295.30 C1219.10,297.80 1226.95,300.98 1233.20,303.80 C1239.45,306.62 1245.65,309.38 1251.90,312.20 C1258.15,315.02 1266.02,318.43 1270.70,320.70 C1275.38,322.97 1274.93,323.18 1280.00,325.80 C1285.07,328.42 1294.07,332.53 1301.10,336.40 C1308.13,340.27 1315.17,345.50 1322.20,349.00 C1329.23,352.50 1336.27,354.42 1343.30,357.40 C1350.33,360.38 1358.78,364.25 1364.40,366.90 C1370.02,369.55 1372.43,371.02 1377.00,373.30 C1381.57,375.58 1389.33,379.38 1391.80,380.60" fill="none" stroke="#0000ff" stroke-width="1" shape-rendering="crispEdges"/><rect x="66" y="76" width="1523" height="1" fill="#ff0000" shape-rendering="crispEdges"/><rect x="66" y="182" width="1523" height="1" fill="#ff0000" shape-rendering="crispEdges"/><rect x="66" y="381" width="1523" height="1" fill="#ff0000" shape-rendering="crispEdges"/><rect x="66" y="480" width="1523" height="1" fill="#ff0000" shape-rendering="crispEdges"/><rect x="66" y="560" width="1523" height="1" fill="#ff0000" shape-rendering="crispEdges"/><rect x="66" y="586" width="1523" height="1" fill="#ff0000" shape-rendering="crispEdges"/><text filter="url(#crisp)" x="81.17" y="74" textLength="45.38" lengthAdjust="spacingAndGlyphs" font-family='"Liberation Sans", sans-serif' font-size="12" fill="#ff0000">11430,87</text><text filter="url(#crisp)" x="81.17" y="180" textLength="45.38" lengthAdjust="spacingAndGlyphs" font-family='"Liberation Sans", sans-serif' font-size="12" fill="#ff0000">10989,97</text><text filter="url(#crisp)" x="81.17" y="379" textLength="45.28" lengthAdjust="spacingAndGlyphs" font-family='"Liberation Sans", sans-serif' font-size="12" fill="#ff0000">10165,15</text><text filter="url(#crisp)" x="81.50" y="478" textLength="38.82" lengthAdjust="spacingAndGlyphs" font-family='"Liberation Sans", sans-serif' font-size="12" fill="#ff0000">9756,14</text><text filter="url(#crisp)" x="81.49" y="558" textLength="38.98" lengthAdjust="spacingAndGlyphs" font-family='"Liberation Sans", sans-serif' font-size="12" fill="#ff0000">9425,43</text><text filter="url(#crisp)" x="81.49" y="584" textLength="39.05" lengthAdjust="spacingAndGlyphs" font-family='"Liberation Sans", sans-serif' font-size="12" fill="#ff0000">9314,57</text><polyline points="714.6,80.2 755.0,141.8 762.0,103.0 789.4,268.0 804.4,182.7 856.3,299.7 852.8,252.2 915.0,390.5 1098.0,214.0 1215.3,467.5 1253.5,387.3 1280.0,516.5 1289.6,448.7 1316.0,553.0 1338.4,486.7 1362.0,590.5" fill="none" stroke="#ff0000" stroke-width="3.3" stroke-linejoin="round" stroke-linecap="round"/></g><g filter="url(#crisp)"><rect x="60" y="35" width="4" height="1" fill="#808080" shape-rendering="crispEdges"/><rect x="1591" y="35" width="4" height="1" fill="#808080" shape-rendering="crispEdges"/><text x="13.17" y="40" textLength="45.25" lengthAdjust="spacingAndGlyphs" font-family='"Liberation Sans", sans-serif' font-size="12" fill="#000" style="font-kerning:none" xml:space="preserve" >11600,00</text><text x="1597.17" y="40" textLength="45.25" lengthAdjust="spacingAndGlyphs" font-family='"Liberation Sans", sans-serif' font-size="12" fill="#000" style="font-kerning:none" xml:space="preserve" >11600,00</text><rect x="60" y="83" width="4" height="1" fill="#808080" shape-rendering="crispEdges"/><rect x="1591" y="83" width="4" height="1" fill="#808080" shape-rendering="crispEdges"/><text x="13.17" y="88" textLength="45.25" lengthAdjust="spacingAndGlyphs" font-family='"Liberation Sans", sans-serif' font-size="12" fill="#000" style="font-kerning:none" xml:space="preserve" >11400,00</text><text x="1597.17" y="88" textLength="45.25" lengthAdjust="spacingAndGlyphs" font-family='"Liberation Sans", sans-serif' font-size="12" fill="#000" style="font-kerning:none" xml:space="preserve" >11400,00</text><rect x="60" y="131" width="4" height="1" fill="#808080" shape-rendering="crispEdges"/><rect x="1591" y="131" width="4" height="1" fill="#808080" shape-rendering="crispEdges"/><text x="13.17" y="136" textLength="45.25" lengthAdjust="spacingAndGlyphs" font-family='"Liberation Sans", sans-serif' font-size="12" fill="#000" style="font-kerning:none" xml:space="preserve" >11200,00</text><text x="1597.17" y="136" textLength="45.25" lengthAdjust="spacingAndGlyphs" font-family='"Liberation Sans", sans-serif' font-size="12" fill="#000" style="font-kerning:none" xml:space="preserve" >11200,00</text><rect x="60" y="179" width="4" height="1" fill="#808080" shape-rendering="crispEdges"/><rect x="1591" y="179" width="4" height="1" fill="#808080" shape-rendering="crispEdges"/><text x="13.17" y="184" textLength="45.25" lengthAdjust="spacingAndGlyphs" font-family='"Liberation Sans", sans-serif' font-size="12" fill="#000" style="font-kerning:none" xml:space="preserve" >11000,00</text><text x="1597.17" y="184" textLength="45.25" lengthAdjust="spacingAndGlyphs" font-family='"Liberation Sans", sans-serif' font-size="12" fill="#000" style="font-kerning:none" xml:space="preserve" >11000,00</text><rect x="60" y="228" width="4" height="1" fill="#808080" shape-rendering="crispEdges"/><rect x="1591" y="228" width="4" height="1" fill="#808080" shape-rendering="crispEdges"/><text x="13.17" y="233" textLength="45.25" lengthAdjust="spacingAndGlyphs" font-family='"Liberation Sans", sans-serif' font-size="12" fill="#000" style="font-kerning:none" xml:space="preserve" >10800,00</text><text x="1597.17" y="233" textLength="45.25" lengthAdjust="spacingAndGlyphs" font-family='"Liberation Sans", sans-serif' font-size="12" fill="#000" style="font-kerning:none" xml:space="preserve" >10800,00</text><rect x="60" y="276" width="4" height="1" fill="#808080" shape-rendering="crispEdges"/><rect x="1591" y="276" width="4" height="1" fill="#808080" shape-rendering="crispEdges"/><text x="13.17" y="281" textLength="45.25" lengthAdjust="spacingAndGlyphs" font-family='"Liberation Sans", sans-serif' font-size="12" fill="#000" style="font-kerning:none" xml:space="preserve" >10600,00</text><text x="1597.17" y="281" textLength="45.25" lengthAdjust="spacingAndGlyphs" font-family='"Liberation Sans", sans-serif' font-size="12" fill="#000" style="font-kerning:none" xml:space="preserve" >10600,00</text><rect x="60" y="324" width="4" height="1" fill="#808080" shape-rendering="crispEdges"/><rect x="1591" y="324" width="4" height="1" fill="#808080" shape-rendering="crispEdges"/><text x="13.17" y="329" textLength="45.25" lengthAdjust="spacingAndGlyphs" font-family='"Liberation Sans", sans-serif' font-size="12" fill="#000" style="font-kerning:none" xml:space="preserve" >10400,00</text><text x="1597.17" y="329" textLength="45.25" lengthAdjust="spacingAndGlyphs" font-family='"Liberation Sans", sans-serif' font-size="12" fill="#000" style="font-kerning:none" xml:space="preserve" >10400,00</text><rect x="60" y="372" width="4" height="1" fill="#808080" shape-rendering="crispEdges"/><rect x="1591" y="372" width="4" height="1" fill="#808080" shape-rendering="crispEdges"/><text x="13.17" y="377" textLength="45.25" lengthAdjust="spacingAndGlyphs" font-family='"Liberation Sans", sans-serif' font-size="12" fill="#000" style="font-kerning:none" xml:space="preserve" >10200,00</text><text x="1597.17" y="377" textLength="45.25" lengthAdjust="spacingAndGlyphs" font-family='"Liberation Sans", sans-serif' font-size="12" fill="#000" style="font-kerning:none" xml:space="preserve" >10200,00</text><rect x="60" y="421" width="4" height="1" fill="#808080" shape-rendering="crispEdges"/><rect x="1591" y="421" width="4" height="1" fill="#808080" shape-rendering="crispEdges"/><text x="13.17" y="426" textLength="45.25" lengthAdjust="spacingAndGlyphs" font-family='"Liberation Sans", sans-serif' font-size="12" fill="#000" style="font-kerning:none" xml:space="preserve" >10000,00</text><text x="1597.17" y="426" textLength="45.25" lengthAdjust="spacingAndGlyphs" font-family='"Liberation Sans", sans-serif' font-size="12" fill="#000" style="font-kerning:none" xml:space="preserve" >10000,00</text><rect x="60" y="469" width="4" height="1" fill="#808080" shape-rendering="crispEdges"/><rect x="1591" y="469" width="4" height="1" fill="#808080" shape-rendering="crispEdges"/><text x="19.50" y="474" textLength="38.93" lengthAdjust="spacingAndGlyphs" font-family='"Liberation Sans", sans-serif' font-size="12" fill="#000" style="font-kerning:none" xml:space="preserve" >9800,00</text><text x="1597.50" y="474" textLength="38.93" lengthAdjust="spacingAndGlyphs" font-family='"Liberation Sans", sans-serif' font-size="12" fill="#000" style="font-kerning:none" xml:space="preserve" >9800,00</text><rect x="60" y="517" width="4" height="1" fill="#808080" shape-rendering="crispEdges"/><rect x="1591" y="517" width="4" height="1" fill="#808080" shape-rendering="crispEdges"/><text x="19.50" y="522" textLength="38.93" lengthAdjust="spacingAndGlyphs" font-family='"Liberation Sans", sans-serif' font-size="12" fill="#000" style="font-kerning:none" xml:space="preserve" >9600,00</text><text x="1597.50" y="522" textLength="38.93" lengthAdjust="spacingAndGlyphs" font-family='"Liberation Sans", sans-serif' font-size="12" fill="#000" style="font-kerning:none" xml:space="preserve" >9600,00</text><rect x="60" y="565" width="4" height="1" fill="#808080" shape-rendering="crispEdges"/><rect x="1591" y="565" width="4" height="1" fill="#808080" shape-rendering="crispEdges"/><text x="19.50" y="570" textLength="38.93" lengthAdjust="spacingAndGlyphs" font-family='"Liberation Sans", sans-serif' font-size="12" fill="#000" style="font-kerning:none" xml:space="preserve" >9400,00</text><text x="1597.50" y="570" textLength="38.93" lengthAdjust="spacingAndGlyphs" font-family='"Liberation Sans", sans-serif' font-size="12" fill="#000" style="font-kerning:none" xml:space="preserve" >9400,00</text><rect x="60" y="614" width="4" height="1" fill="#808080" shape-rendering="crispEdges"/><rect x="1591" y="614" width="4" height="1" fill="#808080" shape-rendering="crispEdges"/><text x="19.50" y="619" textLength="38.93" lengthAdjust="spacingAndGlyphs" font-family='"Liberation Sans", sans-serif' font-size="12" fill="#000" style="font-kerning:none" xml:space="preserve" >9200,00</text><text x="1597.50" y="619" textLength="38.93" lengthAdjust="spacingAndGlyphs" font-family='"Liberation Sans", sans-serif' font-size="12" fill="#000" style="font-kerning:none" xml:space="preserve" >9200,00</text><rect x="60" y="662" width="4" height="1" fill="#808080" shape-rendering="crispEdges"/><rect x="1591" y="662" width="4" height="1" fill="#808080" shape-rendering="crispEdges"/><text x="19.50" y="667" textLength="38.93" lengthAdjust="spacingAndGlyphs" font-family='"Liberation Sans", sans-serif' font-size="12" fill="#000" style="font-kerning:none" xml:space="preserve" >9000,00</text><text x="1597.50" y="667" textLength="38.93" lengthAdjust="spacingAndGlyphs" font-family='"Liberation Sans", sans-serif' font-size="12" fill="#000" style="font-kerning:none" xml:space="preserve" >9000,00</text><rect x="60" y="710" width="4" height="1" fill="#808080" shape-rendering="crispEdges"/><rect x="1591" y="710" width="4" height="1" fill="#808080" shape-rendering="crispEdges"/><text x="19.53" y="715" textLength="38.89" lengthAdjust="spacingAndGlyphs" font-family='"Liberation Sans", sans-serif' font-size="12" fill="#000" style="font-kerning:none" xml:space="preserve" >8800,00</text><text x="1597.53" y="715" textLength="38.89" lengthAdjust="spacingAndGlyphs" font-family='"Liberation Sans", sans-serif' font-size="12" fill="#000" style="font-kerning:none" xml:space="preserve" >8800,00</text><rect x="60" y="759" width="4" height="1" fill="#808080" shape-rendering="crispEdges"/><rect x="1591" y="759" width="4" height="1" fill="#808080" shape-rendering="crispEdges"/><text x="19.53" y="764" textLength="38.89" lengthAdjust="spacingAndGlyphs" font-family='"Liberation Sans", sans-serif' font-size="12" fill="#000" style="font-kerning:none" xml:space="preserve" >8600,00</text><text x="1597.53" y="764" textLength="38.89" lengthAdjust="spacingAndGlyphs" font-family='"Liberation Sans", sans-serif' font-size="12" fill="#000" style="font-kerning:none" xml:space="preserve" >8600,00</text><text x="29.76" y="14" textLength="21.82" lengthAdjust="spacingAndGlyphs" font-family='"Liberation Sans", sans-serif' font-size="12" fill="#000" style="font-kerning:none" xml:space="preserve" >XXP</text><text x="1592.76" y="14" textLength="21.82" lengthAdjust="spacingAndGlyphs" font-family='"Liberation Sans", sans-serif' font-size="12" fill="#000" style="font-kerning:none" xml:space="preserve" >XXP</text><rect x="69" y="816" width="1" height="4" fill="#000" shape-rendering="crispEdges"/><text x="71.16" y="829" textLength="12.33" lengthAdjust="spacingAndGlyphs" font-family='"Liberation Sans", sans-serif' font-size="12" fill="#000" style="font-kerning:none" xml:space="preserve" >16</text><rect x="89" y="816" width="1" height="4" fill="#000" shape-rendering="crispEdges"/><text x="91.15" y="829" textLength="12.37" lengthAdjust="spacingAndGlyphs" font-family='"Liberation Sans", sans-serif' font-size="12" fill="#000" style="font-kerning:none" xml:space="preserve" >19</text><rect x="109" y="816" width="1" height="4" fill="#000" shape-rendering="crispEdges"/><text x="111.46" y="829" textLength="11.96" lengthAdjust="spacingAndGlyphs" font-family='"Liberation Sans", sans-serif' font-size="12" fill="#000" style="font-kerning:none" xml:space="preserve" >20</text><rect x="129" y="816" width="1" height="4" fill="#000" shape-rendering="crispEdges"/><text x="131.55" y="829" textLength="9.88" lengthAdjust="spacingAndGlyphs" font-family='"Liberation Sans", sans-serif' font-size="12" fill="#000" style="font-kerning:none" xml:space="preserve" >21</text><rect x="149" y="816" width="1" height="4" fill="#000" shape-rendering="crispEdges"/><text x="151.45" y="829" textLength="12.09" lengthAdjust="spacingAndGlyphs" font-family='"Liberation Sans", sans-serif' font-size="12" fill="#000" style="font-kerning:none" xml:space="preserve" >22</text><rect x="170" y="816" width="1" height="4" fill="#000" shape-rendering="crispEdges"/><text x="172.46" y="829" textLength="12.02" lengthAdjust="spacingAndGlyphs" font-family='"Liberation Sans", sans-serif' font-size="12" fill="#000" style="font-kerning:none" xml:space="preserve" >23</text><rect x="190" y="816" width="1" height="4" fill="#000" shape-rendering="crispEdges"/><text x="192.46" y="829" textLength="12.02" lengthAdjust="spacingAndGlyphs" font-family='"Liberation Sans", sans-serif' font-size="12" fill="#000" style="font-kerning:none" xml:space="preserve" >26</text><rect x="210" y="816" width="1" height="4" fill="#000" shape-rendering="crispEdges"/><text x="212.45" y="829" textLength="12.09" lengthAdjust="spacingAndGlyphs" font-family='"Liberation Sans", sans-serif' font-size="12" fill="#000" style="font-kerning:none" xml:space="preserve" >27</text><rect x="230" y="816" width="1" height="4" fill="#000" shape-rendering="crispEdges"/><text x="232.46" y="829" textLength="12.01" lengthAdjust="spacingAndGlyphs" font-family='"Liberation Sans", sans-serif' font-size="12" fill="#000" style="font-kerning:none" xml:space="preserve" >28</text><rect x="250" y="816" width="1" height="4" fill="#000" shape-rendering="crispEdges"/><text x="252.45" y="829" textLength="12.06" lengthAdjust="spacingAndGlyphs" font-family='"Liberation Sans", sans-serif' font-size="12" fill="#000" style="font-kerning:none" xml:space="preserve" >29</text><rect x="271" y="816" width="1" height="4" fill="#000" shape-rendering="crispEdges"/><text x="273.60" y="829" textLength="11.82" lengthAdjust="spacingAndGlyphs" font-family='"Liberation Sans", sans-serif' font-size="12" fill="#000" style="font-kerning:none" xml:space="preserve" >30</text><rect x="291" y="816" width="1" height="4" fill="#000" shape-rendering="crispEdges"/><text x="293.08" y="829" textLength="19.96" lengthAdjust="spacingAndGlyphs" font-family='"Liberation Sans", sans-serif' font-size="12" fill="#000" style="font-kerning:none" xml:space="preserve" >Nov</text><rect x="331" y="816" width="1" height="4" fill="#000" shape-rendering="crispEdges"/><text x="333.77" y="829" textLength="5.52" lengthAdjust="spacingAndGlyphs" font-family='"Liberation Sans", sans-serif' font-size="12" fill="#000" style="font-kerning:none" xml:space="preserve" >4</text><rect x="351" y="816" width="1" height="4" fill="#000" shape-rendering="crispEdges"/><text x="353.58" y="829" textLength="5.87" lengthAdjust="spacingAndGlyphs" font-family='"Liberation Sans", sans-serif' font-size="12" fill="#000" style="font-kerning:none" xml:space="preserve" >5</text><rect x="372" y="816" width="1" height="4" fill="#000" shape-rendering="crispEdges"/><text x="374.45" y="829" textLength="6.03" lengthAdjust="spacingAndGlyphs" font-family='"Liberation Sans", sans-serif' font-size="12" fill="#000" style="font-kerning:none" xml:space="preserve" >6</text><rect x="392" y="816" width="1" height="4" fill="#000" shape-rendering="crispEdges"/><text x="394.49" y="829" textLength="6.02" lengthAdjust="spacingAndGlyphs" font-family='"Liberation Sans", sans-serif' font-size="12" fill="#000" style="font-kerning:none" xml:space="preserve" >9</text><rect x="412" y="816" width="1" height="4" fill="#000" shape-rendering="crispEdges"/><text x="414.16" y="829" textLength="12.27" lengthAdjust="spacingAndGlyphs" font-family='"Liberation Sans", sans-serif' font-size="12" fill="#000" style="font-kerning:none" xml:space="preserve" >10</text><rect x="432" y="816" width="1" height="4" fill="#000" shape-rendering="crispEdges"/><text x="434.31" y="829" textLength="10.14" lengthAdjust="spacingAndGlyphs" font-family='"Liberation Sans", sans-serif' font-size="12" fill="#000" style="font-kerning:none" xml:space="preserve" >11</text><rect x="452" y="816" width="1" height="4" fill="#000" shape-rendering="crispEdges"/><text x="454.15" y="829" textLength="12.41" lengthAdjust="spacingAndGlyphs" font-family='"Liberation Sans", sans-serif' font-size="12" fill="#000" style="font-kerning:none" xml:space="preserve" >12</text><rect x="472" y="816" width="1" height="4" fill="#000" shape-rendering="crispEdges"/><text x="474.16" y="829" textLength="12.33" lengthAdjust="spacingAndGlyphs" font-family='"Liberation Sans", sans-serif' font-size="12" fill="#000" style="font-kerning:none" xml:space="preserve" >13</text><rect x="493" y="816" width="1" height="4" fill="#000" shape-rendering="crispEdges"/><text x="495.16" y="829" textLength="12.33" lengthAdjust="spacingAndGlyphs" font-family='"Liberation Sans", sans-serif' font-size="12" fill="#000" style="font-kerning:none" xml:space="preserve" >16</text><rect x="513" y="816" width="1" height="4" fill="#000" shape-rendering="crispEdges"/><text x="515.15" y="829" textLength="12.41" lengthAdjust="spacingAndGlyphs" font-family='"Liberation Sans", sans-serif' font-size="12" fill="#000" style="font-kerning:none" xml:space="preserve" >17</text><rect x="533" y="816" width="1" height="4" fill="#000" shape-rendering="crispEdges"/><text x="535.16" y="829" textLength="12.33" lengthAdjust="spacingAndGlyphs" font-family='"Liberation Sans", sans-serif' font-size="12" fill="#000" style="font-kerning:none" xml:space="preserve" >18</text><rect x="553" y="816" width="1" height="4" fill="#000" shape-rendering="crispEdges"/><text x="555.15" y="829" textLength="12.37" lengthAdjust="spacingAndGlyphs" font-family='"Liberation Sans", sans-serif' font-size="12" fill="#000" style="font-kerning:none" xml:space="preserve" >19</text><rect x="573" y="816" width="1" height="4" fill="#000" shape-rendering="crispEdges"/><text x="575.46" y="829" textLength="11.96" lengthAdjust="spacingAndGlyphs" font-family='"Liberation Sans", sans-serif' font-size="12" fill="#000" style="font-kerning:none" xml:space="preserve" >20</text><rect x="594" y="816" width="1" height="4" fill="#000" shape-rendering="crispEdges"/><text x="596.46" y="829" textLength="12.02" lengthAdjust="spacingAndGlyphs" font-family='"Liberation Sans", sans-serif' font-size="12" fill="#000" style="font-kerning:none" xml:space="preserve" >23</text><rect x="614" y="816" width="1" height="4" fill="#000" shape-rendering="crispEdges"/><text x="616.46" y="829" textLength="11.85" lengthAdjust="spacingAndGlyphs" font-family='"Liberation Sans", sans-serif' font-size="12" fill="#000" style="font-kerning:none" xml:space="preserve" >24</text><rect x="634" y="816" width="1" height="4" fill="#000" shape-rendering="crispEdges"/><text x="636.46" y="829" textLength="12.00" lengthAdjust="spacingAndGlyphs" font-family='"Liberation Sans", sans-serif' font-size="12" fill="#000" style="font-kerning:none" xml:space="preserve" >25</text><rect x="654" y="816" width="1" height="4" fill="#000" shape-rendering="crispEdges"/><text x="656.46" y="829" textLength="12.02" lengthAdjust="spacingAndGlyphs" font-family='"Liberation Sans", sans-serif' font-size="12" fill="#000" style="font-kerning:none" xml:space="preserve" >26</text><rect x="674" y="816" width="1" height="4" fill="#000" shape-rendering="crispEdges"/><text x="676.45" y="829" textLength="12.09" lengthAdjust="spacingAndGlyphs" font-family='"Liberation Sans", sans-serif' font-size="12" fill="#000" style="font-kerning:none" xml:space="preserve" >27</text><rect x="695" y="816" width="1" height="4" fill="#000" shape-rendering="crispEdges"/><text x="697.60" y="829" textLength="11.82" lengthAdjust="spacingAndGlyphs" font-family='"Liberation Sans", sans-serif' font-size="12" fill="#000" style="font-kerning:none" xml:space="preserve" >30</text><rect x="715" y="816" width="1" height="4" fill="#000" shape-rendering="crispEdges"/><text x="717.10" y="829" textLength="19.44" lengthAdjust="spacingAndGlyphs" font-family='"Liberation Sans", sans-serif' font-size="12" fill="#000" style="font-kerning:none" xml:space="preserve" >Dez</text><rect x="755" y="816" width="1" height="4" fill="#000" shape-rendering="crispEdges"/><text x="757.60" y="829" textLength="5.87" lengthAdjust="spacingAndGlyphs" font-family='"Liberation Sans", sans-serif' font-size="12" fill="#000" style="font-kerning:none" xml:space="preserve" >3</text><rect x="775" y="816" width="1" height="4" fill="#000" shape-rendering="crispEdges"/><text x="777.77" y="829" textLength="5.52" lengthAdjust="spacingAndGlyphs" font-family='"Liberation Sans", sans-serif' font-size="12" fill="#000" style="font-kerning:none" xml:space="preserve" >4</text><rect x="795" y="816" width="1" height="4" fill="#000" shape-rendering="crispEdges"/><text x="797.44" y="829" textLength="6.12" lengthAdjust="spacingAndGlyphs" font-family='"Liberation Sans", sans-serif' font-size="12" fill="#000" style="font-kerning:none" xml:space="preserve" >7</text><rect x="816" y="816" width="1" height="4" fill="#000" shape-rendering="crispEdges"/><text x="818.54" y="829" textLength="5.93" lengthAdjust="spacingAndGlyphs" font-family='"Liberation Sans", sans-serif' font-size="12" fill="#000" style="font-kerning:none" xml:space="preserve" >8</text><rect x="836" y="816" width="1" height="4" fill="#000" shape-rendering="crispEdges"/><text x="838.49" y="829" textLength="6.02" lengthAdjust="spacingAndGlyphs" font-family='"Liberation Sans", sans-serif' font-size="12" fill="#000" style="font-kerning:none" xml:space="preserve" >9</text><rect x="856" y="816" width="1" height="4" fill="#000" shape-rendering="crispEdges"/><text x="858.16" y="829" textLength="12.27" lengthAdjust="spacingAndGlyphs" font-family='"Liberation Sans", sans-serif' font-size="12" fill="#000" style="font-kerning:none" xml:space="preserve" >10</text><rect x="876" y="816" width="1" height="4" fill="#000" shape-rendering="crispEdges"/><text x="878.31" y="829" textLength="10.14" lengthAdjust="spacingAndGlyphs" font-family='"Liberation Sans", sans-serif' font-size="12" fill="#000" style="font-kerning:none" xml:space="preserve" >11</text><rect x="896" y="816" width="1" height="4" fill="#000" shape-rendering="crispEdges"/><text x="898.17" y="829" textLength="12.15" lengthAdjust="spacingAndGlyphs" font-family='"Liberation Sans", sans-serif' font-size="12" fill="#000" style="font-kerning:none" xml:space="preserve" >14</text><rect x="917" y="816" width="1" height="4" fill="#000" shape-rendering="crispEdges"/><text x="919.16" y="829" textLength="12.31" lengthAdjust="spacingAndGlyphs" font-family='"Liberation Sans", sans-serif' font-size="12" fill="#000" style="font-kerning:none" xml:space="preserve" >15</text><rect x="937" y="816" width="1" height="4" fill="#000" shape-rendering="crispEdges"/><text x="939.16" y="829" textLength="12.33" lengthAdjust="spacingAndGlyphs" font-family='"Liberation Sans", sans-serif' font-size="12" fill="#000" style="font-kerning:none" xml:space="preserve" >16</text><rect x="957" y="816" width="1" height="4" fill="#000" shape-rendering="crispEdges"/><text x="959.15" y="829" textLength="12.41" lengthAdjust="spacingAndGlyphs" font-family='"Liberation Sans", sans-serif' font-size="12" fill="#000" style="font-kerning:none" xml:space="preserve" >17</text><rect x="977" y="816" width="1" height="4" fill="#000" shape-rendering="crispEdges"/><text x="979.16" y="829" textLength="12.33" lengthAdjust="spacingAndGlyphs" font-family='"Liberation Sans", sans-serif' font-size="12" fill="#000" style="font-kerning:none" xml:space="preserve" >18</text><rect x="997" y="816" width="1" height="4" fill="#000" shape-rendering="crispEdges"/><text x="999.55" y="829" textLength="9.88" lengthAdjust="spacingAndGlyphs" font-family='"Liberation Sans", sans-serif' font-size="12" fill="#000" style="font-kerning:none" xml:space="preserve" >21</text><rect x="1018" y="816" width="1" height="4" fill="#000" shape-rendering="crispEdges"/><text x="1020.45" y="829" textLength="12.09" lengthAdjust="spacingAndGlyphs" font-family='"Liberation Sans", sans-serif' font-size="12" fill="#000" style="font-kerning:none" xml:space="preserve" >22</text><rect x="1038" y="816" width="1" height="4" fill="#000" shape-rendering="crispEdges"/><text x="1040.46" y="829" textLength="12.02" lengthAdjust="spacingAndGlyphs" font-family='"Liberation Sans", sans-serif' font-size="12" fill="#000" style="font-kerning:none" xml:space="preserve" >23</text><rect x="1058" y="816" width="1" height="4" fill="#000" shape-rendering="crispEdges"/><text x="1060.46" y="829" textLength="12.01" lengthAdjust="spacingAndGlyphs" font-family='"Liberation Sans", sans-serif' font-size="12" fill="#000" style="font-kerning:none" xml:space="preserve" >28</text><rect x="1078" y="816" width="1" height="4" fill="#000" shape-rendering="crispEdges"/><text x="1080.45" y="829" textLength="12.06" lengthAdjust="spacingAndGlyphs" font-family='"Liberation Sans", sans-serif' font-size="12" fill="#000" style="font-kerning:none" xml:space="preserve" >29</text><rect x="1112" y="816" width="1" height="4" fill="#000" shape-rendering="crispEdges"/><text x="1114.46" y="829" textLength="24.02" lengthAdjust="spacingAndGlyphs" font-family='"Liberation Sans", sans-serif' font-size="12" fill="#000" style="font-kerning:none" xml:space="preserve" >2016</text><rect x="1152" y="816" width="1" height="4" fill="#000" shape-rendering="crispEdges"/><text x="1154.45" y="829" textLength="6.03" lengthAdjust="spacingAndGlyphs" font-family='"Liberation Sans", sans-serif' font-size="12" fill="#000" style="font-kerning:none" xml:space="preserve" >6</text><rect x="1172" y="816" width="1" height="4" fill="#000" shape-rendering="crispEdges"/><text x="1174.44" y="829" textLength="6.12" lengthAdjust="spacingAndGlyphs" font-family='"Liberation Sans", sans-serif' font-size="12" fill="#000" style="font-kerning:none" xml:space="preserve" >7</text><rect x="1192" y="816" width="1" height="4" fill="#000" shape-rendering="crispEdges"/><text x="1194.54" y="829" textLength="5.93" lengthAdjust="spacingAndGlyphs" font-family='"Liberation Sans", sans-serif' font-size="12" fill="#000" style="font-kerning:none" xml:space="preserve" >8</text><rect x="1213" y="816" width="1" height="4" fill="#000" shape-rendering="crispEdges"/><text x="1215.31" y="829" textLength="10.14" lengthAdjust="spacingAndGlyphs" font-family='"Liberation Sans", sans-serif' font-size="12" fill="#000" style="font-kerning:none" xml:space="preserve" >11</text><rect x="1233" y="816" width="1" height="4" fill="#000" shape-rendering="crispEdges"/><text x="1235.15" y="829" textLength="12.41" lengthAdjust="spacingAndGlyphs" font-family='"Liberation Sans", sans-serif' font-size="12" fill="#000" style="font-kerning:none" xml:space="preserve" >12</text><rect x="1253" y="816" width="1" height="4" fill="#000" shape-rendering="crispEdges"/><text x="1255.16" y="829" textLength="12.33" lengthAdjust="spacingAndGlyphs" font-family='"Liberation Sans", sans-serif' font-size="12" fill="#000" style="font-kerning:none" xml:space="preserve" >13</text><rect x="1273" y="816" width="1" height="4" fill="#000" shape-rendering="crispEdges"/><text x="1275.17" y="829" textLength="12.15" lengthAdjust="spacingAndGlyphs" font-family='"Liberation Sans", sans-serif' font-size="12" fill="#000" style="font-kerning:none" xml:space="preserve" >14</text><rect x="1293" y="816" width="1" height="4" fill="#000" shape-rendering="crispEdges"/><text x="1295.16" y="829" textLength="12.31" lengthAdjust="spacingAndGlyphs" font-family='"Liberation Sans", sans-serif' font-size="12" fill="#000" style="font-kerning:none" xml:space="preserve" >15</text><rect x="1313" y="816" width="1" height="4" fill="#000" shape-rendering="crispEdges"/><text x="1315.16" y="829" textLength="12.33" lengthAdjust="spacingAndGlyphs" font-family='"Liberation Sans", sans-serif' font-size="12" fill="#000" style="font-kerning:none" xml:space="preserve" >18</text><rect x="1334" y="816" width="1" height="4" fill="#000" shape-rendering="crispEdges"/><text x="1336.15" y="829" textLength="12.37" lengthAdjust="spacingAndGlyphs" font-family='"Liberation Sans", sans-serif' font-size="12" fill="#000" style="font-kerning:none" xml:space="preserve" >19</text><rect x="1354" y="816" width="1" height="4" fill="#000" shape-rendering="crispEdges"/><text x="1356.46" y="829" textLength="11.96" lengthAdjust="spacingAndGlyphs" font-family='"Liberation Sans", sans-serif' font-size="12" fill="#000" style="font-kerning:none" xml:space="preserve" >20</text><rect x="1374" y="816" width="1" height="4" fill="#000" shape-rendering="crispEdges"/><text x="1376.55" y="829" textLength="9.88" lengthAdjust="spacingAndGlyphs" font-family='"Liberation Sans", sans-serif' font-size="12" fill="#000" style="font-kerning:none" xml:space="preserve" >21</text><rect x="1406" y="816" width="1" height="4" fill="#000" shape-rendering="crispEdges"/><text x="1408.45" y="829" textLength="12.09" lengthAdjust="spacingAndGlyphs" font-family='"Liberation Sans", sans-serif' font-size="12" fill="#000" style="font-kerning:none" xml:space="preserve" >22</text><rect x="1459" y="816" width="1" height="4" fill="#000" shape-rendering="crispEdges"/><text x="1461.46" y="829" textLength="12.02" lengthAdjust="spacingAndGlyphs" font-family='"Liberation Sans", sans-serif' font-size="12" fill="#000" style="font-kerning:none" xml:space="preserve" >23</text><rect x="1513" y="816" width="1" height="4" fill="#000" shape-rendering="crispEdges"/><text x="1515.46" y="829" textLength="11.85" lengthAdjust="spacingAndGlyphs" font-family='"Liberation Sans", sans-serif' font-size="12" fill="#000" style="font-kerning:none" xml:space="preserve" >24</text><rect x="1567" y="816" width="1" height="4" fill="#000" shape-rendering="crispEdges"/><text x="1569.46" y="829" textLength="12.00" lengthAdjust="spacingAndGlyphs" font-family='"Liberation Sans", sans-serif' font-size="12" fill="#000" style="font-kerning:none" xml:space="preserve" >25</text><rect x="1581" y="805" width="8" height="8" fill="#fff" stroke="#808080" stroke-width="1" shape-rendering="crispEdges"/><line x1="1582" y1="812" x2="1589" y2="805" stroke="#000" stroke-width="1"/><g><text x="83.12" y="15" textLength="267.35" lengthAdjust="spacingAndGlyphs" font-family='"Liberation Sans", sans-serif' font-size="12" fill="#000" style="font-kerning:none" xml:space="preserve" >DAX Perf. Index [.DAX  1 Stunde] 21.01.2016 18:00:00 -</text><text x="353.49" y="15" textLength="50.05" lengthAdjust="spacingAndGlyphs" font-family='"Liberation Sans", sans-serif' font-size="12" fill="#00c000" style="font-kerning:none" xml:space="preserve" >O:9567,57</text><text x="406.11" y="15" textLength="50.32" lengthAdjust="spacingAndGlyphs" font-family='"Liberation Sans", sans-serif' font-size="12" fill="#000" style="font-kerning:none" xml:space="preserve" >H:9604,30</text><text x="459.11" y="15" textLength="48.37" lengthAdjust="spacingAndGlyphs" font-family='"Liberation Sans", sans-serif' font-size="12" fill="#000" style="font-kerning:none" xml:space="preserve" >L:9539,53</text><text x="510.47" y="15" textLength="116.91" lengthAdjust="spacingAndGlyphs" font-family='"Liberation Sans", sans-serif' font-size="12" fill="#00c000" style="font-kerning:none" xml:space="preserve" >C:9574,16 +6,76 +0,07%</text><text x="83.13" y="30" textLength="207.63" lengthAdjust="spacingAndGlyphs" font-family='"Liberation Sans", sans-serif' font-size="12" fill="#000" style="font-kerning:none" xml:space="preserve" >Moving Average Exponential(2) [Close, 100]</text><text x="293.50" y="30" textLength="38.93" lengthAdjust="spacingAndGlyphs" font-family='"Liberation Sans", sans-serif' font-size="12" fill="#808000" style="font-kerning:none" xml:space="preserve" >9770,30</text><text x="335.53" y="30" textLength="23.93" lengthAdjust="spacingAndGlyphs" font-family='"Liberation Sans", sans-serif' font-size="12" fill="#ff0000" style="font-kerning:none" xml:space="preserve" >-3,96</text><text x="362.55" y="30" textLength="31.80" lengthAdjust="spacingAndGlyphs" font-family='"Liberation Sans", sans-serif' font-size="12" fill="#ff0000" style="font-kerning:none" xml:space="preserve" >-0,04%</text><text x="397.82" y="30" textLength="32.37" lengthAdjust="spacingAndGlyphs" font-family='"Liberation Sans", sans-serif' font-size="12" fill="#000" style="font-kerning:none" xml:space="preserve" >{.DAX}</text><text x="83.13" y="45" textLength="199.63" lengthAdjust="spacingAndGlyphs" font-family='"Liberation Sans", sans-serif' font-size="12" fill="#000" style="font-kerning:none" xml:space="preserve" >Moving Average Simple [Close, 200, Nein]</text><text x="285.17" y="45" textLength="45.30" lengthAdjust="spacingAndGlyphs" font-family='"Liberation Sans", sans-serif' font-size="12" fill="#0000ff" style="font-kerning:none" xml:space="preserve" >10166,18</text><text x="333.53" y="45" textLength="24.00" lengthAdjust="spacingAndGlyphs" font-family='"Liberation Sans", sans-serif' font-size="12" fill="#ff0000" style="font-kerning:none" xml:space="preserve" >-4,82</text><text x="360.55" y="45" textLength="31.80" lengthAdjust="spacingAndGlyphs" font-family='"Liberation Sans", sans-serif' font-size="12" fill="#ff0000" style="font-kerning:none" xml:space="preserve" >-0,05%</text><text x="395.82" y="45" textLength="32.37" lengthAdjust="spacingAndGlyphs" font-family='"Liberation Sans", sans-serif' font-size="12" fill="#000" style="font-kerning:none" xml:space="preserve" >{.DAX}</text><text x="81.52" y="61" textLength="129.18" lengthAdjust="spacingAndGlyphs" font-family='"Liberation Sans", sans-serif' font-size="12" fill="#000" style="font-kerning:none" xml:space="preserve" >www.tradesignalonline.com</text><g fill="none" stroke="#000" stroke-width="1" shape-rendering="crispEdges"><line x1="75.5" y1="5" x2="75.5" y2="17"/><rect x="72.5" y="8.5" width="5" height="5" fill="#fff"/></g><path d="M69.5,29 C71,25.5 72,23 73.5,23.3 C75,23.6 76,29.6 77.6,29.6 C79,29.6 80,26.5 81,24.6" fill="none" stroke="#000" stroke-width="1.1"/><path d="M69.5,44 C71,40.5 72,38 73.5,38.3 C75,38.6 76,44.6 77.6,44.6 C79,44.6 80,41.5 81,39.6" fill="none" stroke="#000" stroke-width="1.1"/><circle cx="73.5" cy="55.5" r="3.5" fill="none" stroke="#000" stroke-width="0.9"/><path d="M74.8,54.4 A1.5,1.5 0 1 0 74.8,56.6" fill="none" stroke="#000" stroke-width="0.8"/></g><g><rect x="1536" y="652" width="4" height="58" fill="#fff"/><rect x="1350" y="652" width="186" height="58" fill="#000"/><defs><linearGradient id="gb1" x1="0" y1="0" x2="0" y2="1"><stop offset="0" stop-color="#7fb0f0"/><stop offset="1" stop-color="#3a66b8"/></linearGradient><linearGradient id="gg1" x1="0" y1="0" x2="0" y2="1"><stop offset="0" stop-color="#22a022"/><stop offset="1" stop-color="#0a5a0a"/></linearGradient><linearGradient id="gb2" x1="0" y1="0" x2="0" y2="1"><stop offset="0" stop-color="#9cc4ff"/><stop offset="1" stop-color="#4a86e0"/></linearGradient></defs><rect x="1358.2" y="679.7" width="8.8" height="19.5" rx="2" fill="url(#gb1)"/><rect x="1369" y="670" width="8.8" height="29.2" rx="2" fill="url(#gg1)"/><rect x="1379.7" y="663" width="9.2" height="36.2" rx="2" fill="url(#gb2)"/><text x="1391" y="683.8" font-family='"Liberation Sans", sans-serif' font-size="38.5" fill="#787878" stroke="#787878" stroke-width="0.7" textLength="134" lengthAdjust="spacingAndGlyphs">nuessa</text><text x="1392.7" y="699.7" font-family='"Liberation Sans", sans-serif' font-size="19.2" fill="#787878" stroke="#787878" stroke-width="0.9" textLength="132.5" lengthAdjust="spacingAndGlyphs">TRADING</text></g></svg>
</body></html>
